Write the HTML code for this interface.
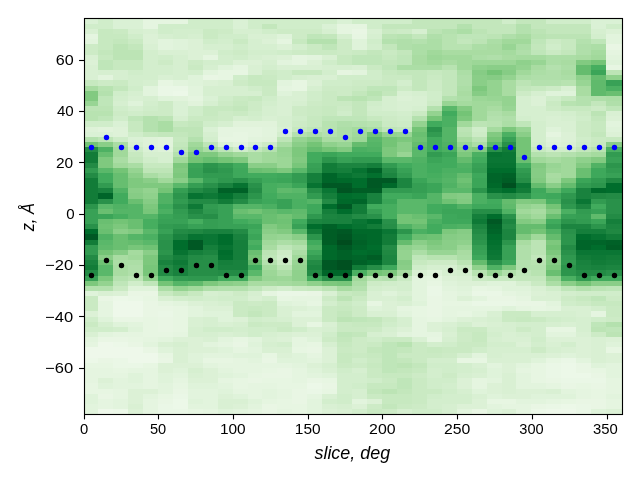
<!DOCTYPE html><html><head><meta charset="utf-8"><title>plot</title><style>html,body{margin:0;padding:0;background:#fff}svg{display:block;will-change:transform}text{font-family:"Liberation Sans",sans-serif;fill:#000}</style></head><body>
<svg width="640" height="480" viewBox="0 0 640 480">
<rect width="640" height="480" fill="#fff"/>
<g shape-rendering="crispEdges">
<rect x="84" y="19" width="14" height="5" fill="#daf1d5"/>
<rect x="98" y="19" width="15" height="5" fill="#d0edca"/>
<rect x="113" y="19" width="30" height="5" fill="#daf1d5"/>
<rect x="143" y="19" width="45" height="5" fill="#e5f5e0"/>
<rect x="188" y="19" width="45" height="5" fill="#d0edca"/>
<rect x="233" y="19" width="15" height="5" fill="#daf1d5"/>
<rect x="248" y="19" width="89" height="5" fill="#d0edca"/>
<rect x="337" y="19" width="15" height="5" fill="#daf1d5"/>
<rect x="352" y="19" width="60" height="5" fill="#d0edca"/>
<rect x="412" y="19" width="90" height="5" fill="#c3e7bc"/>
<rect x="502" y="19" width="14" height="5" fill="#d0edca"/>
<rect x="516" y="19" width="30" height="5" fill="#c3e7bc"/>
<rect x="546" y="19" width="45" height="5" fill="#d0edca"/>
<rect x="591" y="19" width="31" height="5" fill="#daf1d5"/>
<rect x="84" y="24" width="29" height="5" fill="#d0edca"/>
<rect x="113" y="24" width="30" height="5" fill="#daf1d5"/>
<rect x="143" y="24" width="15" height="5" fill="#e5f5e0"/>
<rect x="158" y="24" width="75" height="5" fill="#d0edca"/>
<rect x="233" y="24" width="15" height="5" fill="#daf1d5"/>
<rect x="248" y="24" width="14" height="5" fill="#d0edca"/>
<rect x="262" y="24" width="15" height="5" fill="#c3e7bc"/>
<rect x="277" y="24" width="45" height="5" fill="#d0edca"/>
<rect x="322" y="24" width="15" height="5" fill="#daf1d5"/>
<rect x="337" y="24" width="30" height="5" fill="#e5f5e0"/>
<rect x="367" y="24" width="15" height="5" fill="#d0edca"/>
<rect x="382" y="24" width="75" height="5" fill="#c3e7bc"/>
<rect x="457" y="24" width="15" height="5" fill="#b4e1ae"/>
<rect x="472" y="24" width="44" height="5" fill="#c3e7bc"/>
<rect x="516" y="24" width="15" height="5" fill="#b4e1ae"/>
<rect x="531" y="24" width="60" height="5" fill="#c3e7bc"/>
<rect x="591" y="24" width="15" height="5" fill="#daf1d5"/>
<rect x="606" y="24" width="16" height="5" fill="#d0edca"/>
<rect x="84" y="29" width="14" height="5" fill="#d9f0d3"/>
<rect x="98" y="29" width="15" height="5" fill="#c7e9c0"/>
<rect x="113" y="29" width="15" height="5" fill="#caeac3"/>
<rect x="128" y="29" width="15" height="5" fill="#d6efd0"/>
<rect x="143" y="29" width="15" height="5" fill="#d9f0d3"/>
<rect x="158" y="29" width="15" height="5" fill="#d0edca"/>
<rect x="173" y="29" width="30" height="5" fill="#d3eecd"/>
<rect x="203" y="29" width="15" height="5" fill="#caeac3"/>
<rect x="218" y="29" width="15" height="5" fill="#cdebc6"/>
<rect x="233" y="29" width="29" height="5" fill="#d6efd0"/>
<rect x="262" y="29" width="15" height="5" fill="#d0edca"/>
<rect x="277" y="29" width="45" height="5" fill="#cdebc6"/>
<rect x="322" y="29" width="15" height="5" fill="#d6efd0"/>
<rect x="337" y="29" width="15" height="5" fill="#e5f5e0"/>
<rect x="352" y="29" width="15" height="5" fill="#e9f6e4"/>
<rect x="367" y="29" width="15" height="5" fill="#d9f0d3"/>
<rect x="382" y="29" width="15" height="5" fill="#caeac3"/>
<rect x="397" y="29" width="15" height="5" fill="#cdebc6"/>
<rect x="412" y="29" width="15" height="5" fill="#d6efd0"/>
<rect x="427" y="29" width="15" height="5" fill="#bce4b5"/>
<rect x="442" y="29" width="15" height="5" fill="#b4e1ae"/>
<rect x="457" y="29" width="15" height="5" fill="#acdea6"/>
<rect x="472" y="29" width="15" height="5" fill="#bce4b5"/>
<rect x="487" y="29" width="29" height="5" fill="#c3e7bc"/>
<rect x="516" y="29" width="15" height="5" fill="#b4e1ae"/>
<rect x="531" y="29" width="15" height="5" fill="#bce4b5"/>
<rect x="546" y="29" width="45" height="5" fill="#c3e7bc"/>
<rect x="591" y="29" width="15" height="5" fill="#d6efd0"/>
<rect x="606" y="29" width="16" height="5" fill="#dcf1d6"/>
<rect x="84" y="34" width="14" height="5" fill="#e5f5e0"/>
<rect x="98" y="34" width="30" height="5" fill="#c7e9c0"/>
<rect x="128" y="34" width="15" height="5" fill="#d0edca"/>
<rect x="143" y="34" width="15" height="5" fill="#dcf1d6"/>
<rect x="158" y="34" width="15" height="5" fill="#d6efd0"/>
<rect x="173" y="34" width="15" height="5" fill="#d3eecd"/>
<rect x="188" y="34" width="15" height="5" fill="#d6efd0"/>
<rect x="203" y="34" width="15" height="5" fill="#caeac3"/>
<rect x="218" y="34" width="30" height="5" fill="#d0edca"/>
<rect x="248" y="34" width="29" height="5" fill="#d9f0d3"/>
<rect x="277" y="34" width="15" height="5" fill="#dff3da"/>
<rect x="292" y="34" width="15" height="5" fill="#cdebc6"/>
<rect x="307" y="34" width="15" height="5" fill="#bfe6b9"/>
<rect x="322" y="34" width="15" height="5" fill="#c3e7bc"/>
<rect x="337" y="34" width="15" height="5" fill="#d6efd0"/>
<rect x="352" y="34" width="15" height="5" fill="#e7f6e2"/>
<rect x="367" y="34" width="15" height="5" fill="#d6efd0"/>
<rect x="382" y="34" width="15" height="5" fill="#bce4b5"/>
<rect x="397" y="34" width="15" height="5" fill="#b8e3b1"/>
<rect x="412" y="34" width="15" height="5" fill="#c3e7bc"/>
<rect x="427" y="34" width="15" height="5" fill="#b0dfaa"/>
<rect x="442" y="34" width="15" height="5" fill="#b8e3b1"/>
<rect x="457" y="34" width="30" height="5" fill="#bfe6b9"/>
<rect x="487" y="34" width="15" height="5" fill="#bce4b5"/>
<rect x="502" y="34" width="14" height="5" fill="#b0dfaa"/>
<rect x="516" y="34" width="15" height="5" fill="#a9dca2"/>
<rect x="531" y="34" width="15" height="5" fill="#b8e3b1"/>
<rect x="546" y="34" width="45" height="5" fill="#bce4b5"/>
<rect x="591" y="34" width="15" height="5" fill="#d3eecd"/>
<rect x="606" y="34" width="16" height="5" fill="#e2f4dd"/>
<rect x="84" y="39" width="14" height="5" fill="#e2f4dd"/>
<rect x="98" y="39" width="15" height="5" fill="#c7e9c0"/>
<rect x="113" y="39" width="15" height="5" fill="#c3e7bc"/>
<rect x="128" y="39" width="15" height="5" fill="#caeac3"/>
<rect x="143" y="39" width="15" height="5" fill="#dcf1d6"/>
<rect x="158" y="39" width="15" height="5" fill="#e2f4dd"/>
<rect x="173" y="39" width="15" height="5" fill="#dff3da"/>
<rect x="188" y="39" width="15" height="5" fill="#dcf1d6"/>
<rect x="203" y="39" width="15" height="5" fill="#d0edca"/>
<rect x="218" y="39" width="15" height="5" fill="#d3eecd"/>
<rect x="233" y="39" width="15" height="5" fill="#caeac3"/>
<rect x="248" y="39" width="14" height="5" fill="#d6efd0"/>
<rect x="262" y="39" width="15" height="5" fill="#dcf1d6"/>
<rect x="277" y="39" width="15" height="5" fill="#e5f5e0"/>
<rect x="292" y="39" width="15" height="5" fill="#c7e9c0"/>
<rect x="307" y="39" width="30" height="5" fill="#b4e1ae"/>
<rect x="337" y="39" width="15" height="5" fill="#cdebc6"/>
<rect x="352" y="39" width="15" height="5" fill="#dff3da"/>
<rect x="367" y="39" width="15" height="5" fill="#d0edca"/>
<rect x="382" y="39" width="15" height="5" fill="#b4e1ae"/>
<rect x="397" y="39" width="15" height="5" fill="#b0dfaa"/>
<rect x="412" y="39" width="15" height="5" fill="#b4e1ae"/>
<rect x="427" y="39" width="15" height="5" fill="#acdea6"/>
<rect x="442" y="39" width="15" height="5" fill="#b8e3b1"/>
<rect x="457" y="39" width="15" height="5" fill="#c3e7bc"/>
<rect x="472" y="39" width="15" height="5" fill="#bce4b5"/>
<rect x="487" y="39" width="15" height="5" fill="#acdea6"/>
<rect x="502" y="39" width="29" height="5" fill="#a1d99b"/>
<rect x="531" y="39" width="15" height="5" fill="#bfe6b9"/>
<rect x="546" y="39" width="15" height="5" fill="#cdebc6"/>
<rect x="561" y="39" width="15" height="5" fill="#c7e9c0"/>
<rect x="576" y="39" width="15" height="5" fill="#b4e1ae"/>
<rect x="591" y="39" width="15" height="5" fill="#bfe6b9"/>
<rect x="606" y="39" width="16" height="5" fill="#e2f4dd"/>
<rect x="84" y="44" width="14" height="6" fill="#cdebc6"/>
<rect x="98" y="44" width="15" height="6" fill="#c7e9c0"/>
<rect x="113" y="44" width="15" height="6" fill="#bce4b5"/>
<rect x="128" y="44" width="15" height="6" fill="#c3e7bc"/>
<rect x="143" y="44" width="15" height="6" fill="#d9f0d3"/>
<rect x="158" y="44" width="15" height="6" fill="#e2f4dd"/>
<rect x="173" y="44" width="15" height="6" fill="#dff3da"/>
<rect x="188" y="44" width="15" height="6" fill="#dcf1d6"/>
<rect x="203" y="44" width="30" height="6" fill="#d6efd0"/>
<rect x="233" y="44" width="15" height="6" fill="#d0edca"/>
<rect x="248" y="44" width="29" height="6" fill="#d6efd0"/>
<rect x="277" y="44" width="15" height="6" fill="#dcf1d6"/>
<rect x="292" y="44" width="15" height="6" fill="#d3eecd"/>
<rect x="307" y="44" width="15" height="6" fill="#caeac3"/>
<rect x="322" y="44" width="15" height="6" fill="#bfe6b9"/>
<rect x="337" y="44" width="15" height="6" fill="#cdebc6"/>
<rect x="352" y="44" width="15" height="6" fill="#dff3da"/>
<rect x="367" y="44" width="15" height="6" fill="#d3eecd"/>
<rect x="382" y="44" width="15" height="6" fill="#c3e7bc"/>
<rect x="397" y="44" width="15" height="6" fill="#b0dfaa"/>
<rect x="412" y="44" width="30" height="6" fill="#acdea6"/>
<rect x="442" y="44" width="30" height="6" fill="#b8e3b1"/>
<rect x="472" y="44" width="15" height="6" fill="#acdea6"/>
<rect x="487" y="44" width="15" height="6" fill="#a9dca2"/>
<rect x="502" y="44" width="14" height="6" fill="#98d594"/>
<rect x="516" y="44" width="15" height="6" fill="#acdea6"/>
<rect x="531" y="44" width="15" height="6" fill="#c3e7bc"/>
<rect x="546" y="44" width="15" height="6" fill="#d0edca"/>
<rect x="561" y="44" width="15" height="6" fill="#c7e9c0"/>
<rect x="576" y="44" width="15" height="6" fill="#b0dfaa"/>
<rect x="591" y="44" width="15" height="6" fill="#acdea6"/>
<rect x="606" y="44" width="16" height="6" fill="#e9f6e4"/>
<rect x="84" y="50" width="14" height="5" fill="#cdebc6"/>
<rect x="98" y="50" width="15" height="5" fill="#c3e7bc"/>
<rect x="113" y="50" width="30" height="5" fill="#bce4b5"/>
<rect x="143" y="50" width="15" height="5" fill="#d3eecd"/>
<rect x="158" y="50" width="30" height="5" fill="#d9f0d3"/>
<rect x="188" y="50" width="30" height="5" fill="#dcf1d6"/>
<rect x="218" y="50" width="15" height="5" fill="#d0edca"/>
<rect x="233" y="50" width="15" height="5" fill="#cdebc6"/>
<rect x="248" y="50" width="29" height="5" fill="#d3eecd"/>
<rect x="277" y="50" width="15" height="5" fill="#d0edca"/>
<rect x="292" y="50" width="15" height="5" fill="#cdebc6"/>
<rect x="307" y="50" width="30" height="5" fill="#caeac3"/>
<rect x="337" y="50" width="15" height="5" fill="#cdebc6"/>
<rect x="352" y="50" width="15" height="5" fill="#caeac3"/>
<rect x="367" y="50" width="15" height="5" fill="#c3e7bc"/>
<rect x="382" y="50" width="15" height="5" fill="#caeac3"/>
<rect x="397" y="50" width="15" height="5" fill="#c3e7bc"/>
<rect x="412" y="50" width="15" height="5" fill="#acdea6"/>
<rect x="427" y="50" width="15" height="5" fill="#a1d99b"/>
<rect x="442" y="50" width="60" height="5" fill="#a9dca2"/>
<rect x="502" y="50" width="14" height="5" fill="#a5db9f"/>
<rect x="516" y="50" width="15" height="5" fill="#b0dfaa"/>
<rect x="531" y="50" width="15" height="5" fill="#bfe6b9"/>
<rect x="546" y="50" width="15" height="5" fill="#caeac3"/>
<rect x="561" y="50" width="15" height="5" fill="#c3e7bc"/>
<rect x="576" y="50" width="15" height="5" fill="#b0dfaa"/>
<rect x="591" y="50" width="15" height="5" fill="#a5db9f"/>
<rect x="606" y="50" width="16" height="5" fill="#e5f5e0"/>
<rect x="84" y="55" width="14" height="5" fill="#d9f0d3"/>
<rect x="98" y="55" width="15" height="5" fill="#c7e9c0"/>
<rect x="113" y="55" width="30" height="5" fill="#bce4b5"/>
<rect x="143" y="55" width="15" height="5" fill="#d3eecd"/>
<rect x="158" y="55" width="15" height="5" fill="#d0edca"/>
<rect x="173" y="55" width="15" height="5" fill="#d6efd0"/>
<rect x="188" y="55" width="15" height="5" fill="#dcf1d6"/>
<rect x="203" y="55" width="15" height="5" fill="#e5f5e0"/>
<rect x="218" y="55" width="15" height="5" fill="#d3eecd"/>
<rect x="233" y="55" width="15" height="5" fill="#d0edca"/>
<rect x="248" y="55" width="14" height="5" fill="#d6efd0"/>
<rect x="262" y="55" width="15" height="5" fill="#d9f0d3"/>
<rect x="277" y="55" width="15" height="5" fill="#dcf1d6"/>
<rect x="292" y="55" width="15" height="5" fill="#e5f5e0"/>
<rect x="307" y="55" width="15" height="5" fill="#e2f4dd"/>
<rect x="322" y="55" width="15" height="5" fill="#d9f0d3"/>
<rect x="337" y="55" width="15" height="5" fill="#c7e9c0"/>
<rect x="352" y="55" width="30" height="5" fill="#bfe6b9"/>
<rect x="382" y="55" width="15" height="5" fill="#c7e9c0"/>
<rect x="397" y="55" width="15" height="5" fill="#bfe6b9"/>
<rect x="412" y="55" width="15" height="5" fill="#a9dca2"/>
<rect x="427" y="55" width="15" height="5" fill="#9cd797"/>
<rect x="442" y="55" width="30" height="5" fill="#a1d99b"/>
<rect x="472" y="55" width="15" height="5" fill="#acdea6"/>
<rect x="487" y="55" width="15" height="5" fill="#b0dfaa"/>
<rect x="502" y="55" width="14" height="5" fill="#a9dca2"/>
<rect x="516" y="55" width="30" height="5" fill="#a5db9f"/>
<rect x="546" y="55" width="30" height="5" fill="#acdea6"/>
<rect x="576" y="55" width="15" height="5" fill="#a9dca2"/>
<rect x="591" y="55" width="15" height="5" fill="#a1d99b"/>
<rect x="606" y="55" width="16" height="5" fill="#e2f4dd"/>
<rect x="84" y="60" width="14" height="5" fill="#dcf1d6"/>
<rect x="98" y="60" width="15" height="5" fill="#bfe6b9"/>
<rect x="113" y="60" width="30" height="5" fill="#c7e9c0"/>
<rect x="143" y="60" width="15" height="5" fill="#d3eecd"/>
<rect x="158" y="60" width="15" height="5" fill="#cdebc6"/>
<rect x="173" y="60" width="15" height="5" fill="#d6efd0"/>
<rect x="188" y="60" width="15" height="5" fill="#cdebc6"/>
<rect x="203" y="60" width="30" height="5" fill="#d3eecd"/>
<rect x="233" y="60" width="29" height="5" fill="#dcf1d6"/>
<rect x="262" y="60" width="15" height="5" fill="#d6efd0"/>
<rect x="277" y="60" width="15" height="5" fill="#e2f4dd"/>
<rect x="292" y="60" width="15" height="5" fill="#e5f5e0"/>
<rect x="307" y="60" width="15" height="5" fill="#dcf1d6"/>
<rect x="322" y="60" width="15" height="5" fill="#d0edca"/>
<rect x="337" y="60" width="15" height="5" fill="#c7e9c0"/>
<rect x="352" y="60" width="30" height="5" fill="#bfe6b9"/>
<rect x="382" y="60" width="15" height="5" fill="#c3e7bc"/>
<rect x="397" y="60" width="15" height="5" fill="#bfe6b9"/>
<rect x="412" y="60" width="15" height="5" fill="#a9dca2"/>
<rect x="427" y="60" width="15" height="5" fill="#a1d99b"/>
<rect x="442" y="60" width="15" height="5" fill="#a9dca2"/>
<rect x="457" y="60" width="15" height="5" fill="#a1d99b"/>
<rect x="472" y="60" width="44" height="5" fill="#9cd797"/>
<rect x="516" y="60" width="15" height="5" fill="#8fd18c"/>
<rect x="531" y="60" width="15" height="5" fill="#98d594"/>
<rect x="546" y="60" width="15" height="5" fill="#acdea6"/>
<rect x="561" y="60" width="15" height="5" fill="#a9dca2"/>
<rect x="576" y="60" width="15" height="5" fill="#82ca81"/>
<rect x="591" y="60" width="15" height="5" fill="#74c476"/>
<rect x="606" y="60" width="16" height="5" fill="#dff3da"/>
<rect x="84" y="65" width="14" height="5" fill="#d9f0d3"/>
<rect x="98" y="65" width="15" height="5" fill="#bfe6b9"/>
<rect x="113" y="65" width="30" height="5" fill="#c7e9c0"/>
<rect x="143" y="65" width="30" height="5" fill="#d3eecd"/>
<rect x="173" y="65" width="15" height="5" fill="#d6efd0"/>
<rect x="188" y="65" width="15" height="5" fill="#caeac3"/>
<rect x="203" y="65" width="15" height="5" fill="#d6efd0"/>
<rect x="218" y="65" width="15" height="5" fill="#dff3da"/>
<rect x="233" y="65" width="15" height="5" fill="#e5f5e0"/>
<rect x="248" y="65" width="14" height="5" fill="#d9f0d3"/>
<rect x="262" y="65" width="15" height="5" fill="#d3eecd"/>
<rect x="277" y="65" width="45" height="5" fill="#d9f0d3"/>
<rect x="322" y="65" width="30" height="5" fill="#d6efd0"/>
<rect x="352" y="65" width="15" height="5" fill="#d9f0d3"/>
<rect x="367" y="65" width="15" height="5" fill="#caeac3"/>
<rect x="382" y="65" width="15" height="5" fill="#bfe6b9"/>
<rect x="397" y="65" width="45" height="5" fill="#acdea6"/>
<rect x="442" y="65" width="15" height="5" fill="#b8e3b1"/>
<rect x="457" y="65" width="15" height="5" fill="#a1d99b"/>
<rect x="472" y="65" width="15" height="5" fill="#8fd18c"/>
<rect x="487" y="65" width="29" height="5" fill="#8ace88"/>
<rect x="516" y="65" width="15" height="5" fill="#94d390"/>
<rect x="531" y="65" width="15" height="5" fill="#a9dca2"/>
<rect x="546" y="65" width="15" height="5" fill="#b4e1ae"/>
<rect x="561" y="65" width="15" height="5" fill="#acdea6"/>
<rect x="576" y="65" width="15" height="5" fill="#65bc6e"/>
<rect x="591" y="65" width="15" height="5" fill="#46ae5f"/>
<rect x="606" y="65" width="16" height="5" fill="#e7f6e2"/>
<rect x="84" y="70" width="14" height="5" fill="#d9f0d3"/>
<rect x="98" y="70" width="30" height="5" fill="#d6efd0"/>
<rect x="128" y="70" width="15" height="5" fill="#d0edca"/>
<rect x="143" y="70" width="30" height="5" fill="#d3eecd"/>
<rect x="173" y="70" width="15" height="5" fill="#d6efd0"/>
<rect x="188" y="70" width="15" height="5" fill="#d3eecd"/>
<rect x="203" y="70" width="15" height="5" fill="#e2f4dd"/>
<rect x="218" y="70" width="30" height="5" fill="#e7f6e2"/>
<rect x="248" y="70" width="14" height="5" fill="#d9f0d3"/>
<rect x="262" y="70" width="15" height="5" fill="#cdebc6"/>
<rect x="277" y="70" width="15" height="5" fill="#d0edca"/>
<rect x="292" y="70" width="30" height="5" fill="#c7e9c0"/>
<rect x="322" y="70" width="15" height="5" fill="#d3eecd"/>
<rect x="337" y="70" width="15" height="5" fill="#e5f5e0"/>
<rect x="352" y="70" width="15" height="5" fill="#e2f4dd"/>
<rect x="367" y="70" width="15" height="5" fill="#d0edca"/>
<rect x="382" y="70" width="15" height="5" fill="#c7e9c0"/>
<rect x="397" y="70" width="30" height="5" fill="#c3e7bc"/>
<rect x="427" y="70" width="15" height="5" fill="#c7e9c0"/>
<rect x="442" y="70" width="15" height="5" fill="#c3e7bc"/>
<rect x="457" y="70" width="15" height="5" fill="#acdea6"/>
<rect x="472" y="70" width="15" height="5" fill="#86cc85"/>
<rect x="487" y="70" width="15" height="5" fill="#74c476"/>
<rect x="502" y="70" width="14" height="5" fill="#86cc85"/>
<rect x="516" y="70" width="15" height="5" fill="#a1d99b"/>
<rect x="531" y="70" width="15" height="5" fill="#acdea6"/>
<rect x="546" y="70" width="15" height="5" fill="#b0dfaa"/>
<rect x="561" y="70" width="15" height="5" fill="#a9dca2"/>
<rect x="576" y="70" width="15" height="5" fill="#65bc6e"/>
<rect x="591" y="70" width="15" height="5" fill="#3ba558"/>
<rect x="606" y="70" width="16" height="5" fill="#bce4b5"/>
<rect x="84" y="75" width="14" height="5" fill="#d9f0d3"/>
<rect x="98" y="75" width="15" height="5" fill="#e2f4dd"/>
<rect x="113" y="75" width="15" height="5" fill="#d6efd0"/>
<rect x="128" y="75" width="30" height="5" fill="#d3eecd"/>
<rect x="158" y="75" width="15" height="5" fill="#d9f0d3"/>
<rect x="173" y="75" width="15" height="5" fill="#d6efd0"/>
<rect x="188" y="75" width="15" height="5" fill="#dff3da"/>
<rect x="203" y="75" width="15" height="5" fill="#e9f6e4"/>
<rect x="218" y="75" width="15" height="5" fill="#e7f6e2"/>
<rect x="233" y="75" width="15" height="5" fill="#d0edca"/>
<rect x="248" y="75" width="14" height="5" fill="#c7e9c0"/>
<rect x="262" y="75" width="15" height="5" fill="#caeac3"/>
<rect x="277" y="75" width="15" height="5" fill="#d0edca"/>
<rect x="292" y="75" width="15" height="5" fill="#d6efd0"/>
<rect x="307" y="75" width="30" height="5" fill="#d9f0d3"/>
<rect x="337" y="75" width="45" height="5" fill="#d0edca"/>
<rect x="382" y="75" width="30" height="5" fill="#caeac3"/>
<rect x="412" y="75" width="15" height="5" fill="#c3e7bc"/>
<rect x="427" y="75" width="15" height="5" fill="#caeac3"/>
<rect x="442" y="75" width="15" height="5" fill="#c3e7bc"/>
<rect x="457" y="75" width="15" height="5" fill="#b0dfaa"/>
<rect x="472" y="75" width="15" height="5" fill="#8ace88"/>
<rect x="487" y="75" width="15" height="5" fill="#86cc85"/>
<rect x="502" y="75" width="14" height="5" fill="#94d390"/>
<rect x="516" y="75" width="15" height="5" fill="#acdea6"/>
<rect x="531" y="75" width="30" height="5" fill="#b0dfaa"/>
<rect x="561" y="75" width="15" height="5" fill="#acdea6"/>
<rect x="576" y="75" width="15" height="5" fill="#8fd18c"/>
<rect x="591" y="75" width="15" height="5" fill="#65bc6e"/>
<rect x="606" y="75" width="16" height="5" fill="#8fd18c"/>
<rect x="84" y="80" width="14" height="6" fill="#c7e9c0"/>
<rect x="98" y="80" width="15" height="6" fill="#cdebc6"/>
<rect x="113" y="80" width="15" height="6" fill="#caeac3"/>
<rect x="128" y="80" width="15" height="6" fill="#d3eecd"/>
<rect x="143" y="80" width="15" height="6" fill="#d6efd0"/>
<rect x="158" y="80" width="15" height="6" fill="#e7f6e2"/>
<rect x="173" y="80" width="15" height="6" fill="#e2f4dd"/>
<rect x="188" y="80" width="15" height="6" fill="#dff3da"/>
<rect x="203" y="80" width="15" height="6" fill="#dcf1d6"/>
<rect x="218" y="80" width="15" height="6" fill="#d9f0d3"/>
<rect x="233" y="80" width="15" height="6" fill="#cdebc6"/>
<rect x="248" y="80" width="29" height="6" fill="#c7e9c0"/>
<rect x="277" y="80" width="15" height="6" fill="#e2f4dd"/>
<rect x="292" y="80" width="15" height="6" fill="#e7f6e2"/>
<rect x="307" y="80" width="15" height="6" fill="#dcf1d6"/>
<rect x="322" y="80" width="30" height="6" fill="#d0edca"/>
<rect x="352" y="80" width="30" height="6" fill="#cdebc6"/>
<rect x="382" y="80" width="15" height="6" fill="#caeac3"/>
<rect x="397" y="80" width="15" height="6" fill="#d3eecd"/>
<rect x="412" y="80" width="15" height="6" fill="#c3e7bc"/>
<rect x="427" y="80" width="15" height="6" fill="#cdebc6"/>
<rect x="442" y="80" width="15" height="6" fill="#c3e7bc"/>
<rect x="457" y="80" width="15" height="6" fill="#b0dfaa"/>
<rect x="472" y="80" width="15" height="6" fill="#8ace88"/>
<rect x="487" y="80" width="15" height="6" fill="#94d390"/>
<rect x="502" y="80" width="14" height="6" fill="#a9dca2"/>
<rect x="516" y="80" width="15" height="6" fill="#bce4b5"/>
<rect x="531" y="80" width="30" height="6" fill="#b4e1ae"/>
<rect x="561" y="80" width="15" height="6" fill="#b8e3b1"/>
<rect x="576" y="80" width="15" height="6" fill="#98d594"/>
<rect x="591" y="80" width="15" height="6" fill="#60ba6c"/>
<rect x="606" y="80" width="16" height="6" fill="#38a156"/>
<rect x="84" y="86" width="14" height="5" fill="#a9dca2"/>
<rect x="98" y="86" width="15" height="5" fill="#b8e3b1"/>
<rect x="113" y="86" width="15" height="5" fill="#c3e7bc"/>
<rect x="128" y="86" width="15" height="5" fill="#d0edca"/>
<rect x="143" y="86" width="15" height="5" fill="#e2f4dd"/>
<rect x="158" y="86" width="30" height="5" fill="#eaf7e6"/>
<rect x="188" y="86" width="15" height="5" fill="#e2f4dd"/>
<rect x="203" y="86" width="45" height="5" fill="#d6efd0"/>
<rect x="248" y="86" width="14" height="5" fill="#d0edca"/>
<rect x="262" y="86" width="15" height="5" fill="#caeac3"/>
<rect x="277" y="86" width="15" height="5" fill="#e5f5e0"/>
<rect x="292" y="86" width="15" height="5" fill="#e7f6e2"/>
<rect x="307" y="86" width="15" height="5" fill="#d6efd0"/>
<rect x="322" y="86" width="30" height="5" fill="#cdebc6"/>
<rect x="352" y="86" width="15" height="5" fill="#caeac3"/>
<rect x="367" y="86" width="30" height="5" fill="#bfe6b9"/>
<rect x="397" y="86" width="15" height="5" fill="#cdebc6"/>
<rect x="412" y="86" width="15" height="5" fill="#c3e7bc"/>
<rect x="427" y="86" width="15" height="5" fill="#cdebc6"/>
<rect x="442" y="86" width="15" height="5" fill="#c3e7bc"/>
<rect x="457" y="86" width="15" height="5" fill="#acdea6"/>
<rect x="472" y="86" width="15" height="5" fill="#7dc87d"/>
<rect x="487" y="86" width="15" height="5" fill="#94d390"/>
<rect x="502" y="86" width="14" height="5" fill="#a9dca2"/>
<rect x="516" y="86" width="15" height="5" fill="#c3e7bc"/>
<rect x="531" y="86" width="15" height="5" fill="#c7e9c0"/>
<rect x="546" y="86" width="15" height="5" fill="#cdebc6"/>
<rect x="561" y="86" width="15" height="5" fill="#d9f0d3"/>
<rect x="576" y="86" width="15" height="5" fill="#a9dca2"/>
<rect x="591" y="86" width="15" height="5" fill="#60ba6c"/>
<rect x="606" y="86" width="16" height="5" fill="#4bb062"/>
<rect x="84" y="91" width="14" height="5" fill="#82ca81"/>
<rect x="98" y="91" width="15" height="5" fill="#b4e1ae"/>
<rect x="113" y="91" width="15" height="5" fill="#d0edca"/>
<rect x="128" y="91" width="15" height="5" fill="#d6efd0"/>
<rect x="143" y="91" width="15" height="5" fill="#e2f4dd"/>
<rect x="158" y="91" width="15" height="5" fill="#eaf7e6"/>
<rect x="173" y="91" width="15" height="5" fill="#ecf8e8"/>
<rect x="188" y="91" width="15" height="5" fill="#e2f4dd"/>
<rect x="203" y="91" width="59" height="5" fill="#d6efd0"/>
<rect x="262" y="91" width="15" height="5" fill="#caeac3"/>
<rect x="277" y="91" width="15" height="5" fill="#dff3da"/>
<rect x="292" y="91" width="15" height="5" fill="#d9f0d3"/>
<rect x="307" y="91" width="15" height="5" fill="#d0edca"/>
<rect x="322" y="91" width="15" height="5" fill="#caeac3"/>
<rect x="337" y="91" width="15" height="5" fill="#cdebc6"/>
<rect x="352" y="91" width="15" height="5" fill="#c3e7bc"/>
<rect x="367" y="91" width="15" height="5" fill="#b8e3b1"/>
<rect x="382" y="91" width="15" height="5" fill="#c3e7bc"/>
<rect x="397" y="91" width="15" height="5" fill="#d9f0d3"/>
<rect x="412" y="91" width="15" height="5" fill="#d6efd0"/>
<rect x="427" y="91" width="15" height="5" fill="#d0edca"/>
<rect x="442" y="91" width="15" height="5" fill="#c3e7bc"/>
<rect x="457" y="91" width="15" height="5" fill="#a9dca2"/>
<rect x="472" y="91" width="15" height="5" fill="#86cc85"/>
<rect x="487" y="91" width="15" height="5" fill="#94d390"/>
<rect x="502" y="91" width="14" height="5" fill="#a9dca2"/>
<rect x="516" y="91" width="15" height="5" fill="#cdebc6"/>
<rect x="531" y="91" width="15" height="5" fill="#d6efd0"/>
<rect x="546" y="91" width="30" height="5" fill="#dff3da"/>
<rect x="576" y="91" width="15" height="5" fill="#a9dca2"/>
<rect x="591" y="91" width="15" height="5" fill="#60ba6c"/>
<rect x="606" y="91" width="16" height="5" fill="#6abf71"/>
<rect x="84" y="96" width="14" height="5" fill="#82ca81"/>
<rect x="98" y="96" width="15" height="5" fill="#bfe6b9"/>
<rect x="113" y="96" width="15" height="5" fill="#d3eecd"/>
<rect x="128" y="96" width="15" height="5" fill="#d9f0d3"/>
<rect x="143" y="96" width="15" height="5" fill="#d6efd0"/>
<rect x="158" y="96" width="15" height="5" fill="#dff3da"/>
<rect x="173" y="96" width="15" height="5" fill="#e1f3db"/>
<rect x="188" y="96" width="15" height="5" fill="#e5f5e0"/>
<rect x="203" y="96" width="15" height="5" fill="#daf1d5"/>
<rect x="218" y="96" width="15" height="5" fill="#d0edca"/>
<rect x="233" y="96" width="15" height="5" fill="#caeac3"/>
<rect x="248" y="96" width="14" height="5" fill="#c7e9c0"/>
<rect x="262" y="96" width="15" height="5" fill="#d0edca"/>
<rect x="277" y="96" width="30" height="5" fill="#d9f0d3"/>
<rect x="307" y="96" width="15" height="5" fill="#d0edca"/>
<rect x="322" y="96" width="15" height="5" fill="#caeac3"/>
<rect x="337" y="96" width="15" height="5" fill="#bce4b5"/>
<rect x="352" y="96" width="15" height="5" fill="#b8e3b1"/>
<rect x="367" y="96" width="15" height="5" fill="#bfe6b9"/>
<rect x="382" y="96" width="15" height="5" fill="#d6efd0"/>
<rect x="397" y="96" width="15" height="5" fill="#dcf1d6"/>
<rect x="412" y="96" width="15" height="5" fill="#d9f0d3"/>
<rect x="427" y="96" width="15" height="5" fill="#d0edca"/>
<rect x="442" y="96" width="15" height="5" fill="#b4e1ae"/>
<rect x="457" y="96" width="15" height="5" fill="#acdea6"/>
<rect x="472" y="96" width="15" height="5" fill="#9cd797"/>
<rect x="487" y="96" width="15" height="5" fill="#98d594"/>
<rect x="502" y="96" width="14" height="5" fill="#94d390"/>
<rect x="516" y="96" width="15" height="5" fill="#d6efd0"/>
<rect x="531" y="96" width="15" height="5" fill="#dcf1d6"/>
<rect x="546" y="96" width="15" height="5" fill="#d0edca"/>
<rect x="561" y="96" width="15" height="5" fill="#c7e9c0"/>
<rect x="576" y="96" width="15" height="5" fill="#b4e1ae"/>
<rect x="591" y="96" width="15" height="5" fill="#b0dfaa"/>
<rect x="606" y="96" width="16" height="5" fill="#acdea6"/>
<rect x="84" y="101" width="14" height="5" fill="#98d594"/>
<rect x="98" y="101" width="15" height="5" fill="#bfe6b9"/>
<rect x="113" y="101" width="15" height="5" fill="#d6efd0"/>
<rect x="128" y="101" width="15" height="5" fill="#dff3da"/>
<rect x="143" y="101" width="15" height="5" fill="#d3eecd"/>
<rect x="158" y="101" width="15" height="5" fill="#cdebc6"/>
<rect x="173" y="101" width="15" height="5" fill="#daf1d5"/>
<rect x="188" y="101" width="15" height="5" fill="#e1f3db"/>
<rect x="203" y="101" width="15" height="5" fill="#d6efd0"/>
<rect x="218" y="101" width="15" height="5" fill="#cdebc6"/>
<rect x="233" y="101" width="15" height="5" fill="#c7e9c0"/>
<rect x="248" y="101" width="14" height="5" fill="#cdebc6"/>
<rect x="262" y="101" width="15" height="5" fill="#d3eecd"/>
<rect x="277" y="101" width="15" height="5" fill="#d9f0d3"/>
<rect x="292" y="101" width="15" height="5" fill="#d6efd0"/>
<rect x="307" y="101" width="15" height="5" fill="#cdebc6"/>
<rect x="322" y="101" width="30" height="5" fill="#caeac3"/>
<rect x="352" y="101" width="15" height="5" fill="#c3e7bc"/>
<rect x="367" y="101" width="15" height="5" fill="#d0edca"/>
<rect x="382" y="101" width="15" height="5" fill="#d6efd0"/>
<rect x="397" y="101" width="30" height="5" fill="#d9f0d3"/>
<rect x="427" y="101" width="15" height="5" fill="#cdebc6"/>
<rect x="442" y="101" width="15" height="5" fill="#98d594"/>
<rect x="457" y="101" width="15" height="5" fill="#a5db9f"/>
<rect x="472" y="101" width="30" height="5" fill="#a1d99b"/>
<rect x="502" y="101" width="14" height="5" fill="#94d390"/>
<rect x="516" y="101" width="15" height="5" fill="#d6efd0"/>
<rect x="531" y="101" width="15" height="5" fill="#dcf1d6"/>
<rect x="546" y="101" width="15" height="5" fill="#caeac3"/>
<rect x="561" y="101" width="15" height="5" fill="#b8e3b1"/>
<rect x="576" y="101" width="15" height="5" fill="#b4e1ae"/>
<rect x="591" y="101" width="15" height="5" fill="#c3e7bc"/>
<rect x="606" y="101" width="16" height="5" fill="#b0dfaa"/>
<rect x="84" y="106" width="29" height="5" fill="#bce4b5"/>
<rect x="113" y="106" width="15" height="5" fill="#d0edca"/>
<rect x="128" y="106" width="15" height="5" fill="#d6efd0"/>
<rect x="143" y="106" width="15" height="5" fill="#d0edca"/>
<rect x="158" y="106" width="15" height="5" fill="#cdebc6"/>
<rect x="173" y="106" width="15" height="5" fill="#daf1d5"/>
<rect x="188" y="106" width="15" height="5" fill="#d0edca"/>
<rect x="203" y="106" width="30" height="5" fill="#c7e9c0"/>
<rect x="233" y="106" width="15" height="5" fill="#c3e7bc"/>
<rect x="248" y="106" width="14" height="5" fill="#cdebc6"/>
<rect x="262" y="106" width="15" height="5" fill="#d6efd0"/>
<rect x="277" y="106" width="15" height="5" fill="#d9f0d3"/>
<rect x="292" y="106" width="15" height="5" fill="#cdebc6"/>
<rect x="307" y="106" width="15" height="5" fill="#caeac3"/>
<rect x="322" y="106" width="15" height="5" fill="#c7e9c0"/>
<rect x="337" y="106" width="15" height="5" fill="#cdebc6"/>
<rect x="352" y="106" width="15" height="5" fill="#c3e7bc"/>
<rect x="367" y="106" width="15" height="5" fill="#d3eecd"/>
<rect x="382" y="106" width="15" height="5" fill="#d6efd0"/>
<rect x="397" y="106" width="15" height="5" fill="#d9f0d3"/>
<rect x="412" y="106" width="15" height="5" fill="#d6efd0"/>
<rect x="427" y="106" width="15" height="5" fill="#b4e1ae"/>
<rect x="442" y="106" width="15" height="5" fill="#5ab86a"/>
<rect x="457" y="106" width="15" height="5" fill="#82ca81"/>
<rect x="472" y="106" width="15" height="5" fill="#a1d99b"/>
<rect x="487" y="106" width="15" height="5" fill="#a9dca2"/>
<rect x="502" y="106" width="14" height="5" fill="#98d594"/>
<rect x="516" y="106" width="30" height="5" fill="#d6efd0"/>
<rect x="546" y="106" width="15" height="5" fill="#cdebc6"/>
<rect x="561" y="106" width="30" height="5" fill="#c7e9c0"/>
<rect x="591" y="106" width="15" height="5" fill="#cdebc6"/>
<rect x="606" y="106" width="16" height="5" fill="#bfe6b9"/>
<rect x="84" y="111" width="29" height="5" fill="#b8e3b1"/>
<rect x="113" y="111" width="15" height="5" fill="#cdebc6"/>
<rect x="128" y="111" width="15" height="5" fill="#d0edca"/>
<rect x="143" y="111" width="30" height="5" fill="#cdebc6"/>
<rect x="173" y="111" width="15" height="5" fill="#daf1d5"/>
<rect x="188" y="111" width="15" height="5" fill="#d0edca"/>
<rect x="203" y="111" width="15" height="5" fill="#c7e9c0"/>
<rect x="218" y="111" width="15" height="5" fill="#cdebc6"/>
<rect x="233" y="111" width="15" height="5" fill="#caeac3"/>
<rect x="248" y="111" width="14" height="5" fill="#d0edca"/>
<rect x="262" y="111" width="15" height="5" fill="#d6efd0"/>
<rect x="277" y="111" width="15" height="5" fill="#d9f0d3"/>
<rect x="292" y="111" width="15" height="5" fill="#cdebc6"/>
<rect x="307" y="111" width="15" height="5" fill="#caeac3"/>
<rect x="322" y="111" width="15" height="5" fill="#c7e9c0"/>
<rect x="337" y="111" width="15" height="5" fill="#d0edca"/>
<rect x="352" y="111" width="15" height="5" fill="#c3e7bc"/>
<rect x="367" y="111" width="30" height="5" fill="#d0edca"/>
<rect x="397" y="111" width="15" height="5" fill="#d3eecd"/>
<rect x="412" y="111" width="15" height="5" fill="#caeac3"/>
<rect x="427" y="111" width="15" height="5" fill="#94d390"/>
<rect x="442" y="111" width="15" height="5" fill="#41ab5d"/>
<rect x="457" y="111" width="15" height="5" fill="#74c476"/>
<rect x="472" y="111" width="15" height="5" fill="#a1d99b"/>
<rect x="487" y="111" width="15" height="5" fill="#b0dfaa"/>
<rect x="502" y="111" width="14" height="5" fill="#a9dca2"/>
<rect x="516" y="111" width="45" height="5" fill="#d6efd0"/>
<rect x="561" y="111" width="15" height="5" fill="#d3eecd"/>
<rect x="576" y="111" width="15" height="5" fill="#cdebc6"/>
<rect x="591" y="111" width="15" height="5" fill="#bce4b5"/>
<rect x="606" y="111" width="16" height="5" fill="#d9f0d3"/>
<rect x="84" y="116" width="14" height="5" fill="#b8e3b1"/>
<rect x="98" y="116" width="15" height="5" fill="#bfe6b9"/>
<rect x="113" y="116" width="15" height="5" fill="#d0edca"/>
<rect x="128" y="116" width="15" height="5" fill="#bfe6b9"/>
<rect x="143" y="116" width="15" height="5" fill="#b4e1ae"/>
<rect x="158" y="116" width="15" height="5" fill="#bce4b5"/>
<rect x="173" y="116" width="15" height="5" fill="#d6efd0"/>
<rect x="188" y="116" width="30" height="5" fill="#caeac3"/>
<rect x="218" y="116" width="15" height="5" fill="#cdebc6"/>
<rect x="233" y="116" width="15" height="5" fill="#d6efd0"/>
<rect x="248" y="116" width="14" height="5" fill="#d3eecd"/>
<rect x="262" y="116" width="15" height="5" fill="#d9f0d3"/>
<rect x="277" y="116" width="15" height="5" fill="#d6efd0"/>
<rect x="292" y="116" width="15" height="5" fill="#d0edca"/>
<rect x="307" y="116" width="15" height="5" fill="#c7e9c0"/>
<rect x="322" y="116" width="45" height="5" fill="#bfe6b9"/>
<rect x="367" y="116" width="15" height="5" fill="#c7e9c0"/>
<rect x="382" y="116" width="15" height="5" fill="#cdebc6"/>
<rect x="397" y="116" width="15" height="5" fill="#d0edca"/>
<rect x="412" y="116" width="15" height="5" fill="#b4e1ae"/>
<rect x="427" y="116" width="15" height="5" fill="#74c476"/>
<rect x="442" y="116" width="15" height="5" fill="#4bb062"/>
<rect x="457" y="116" width="15" height="5" fill="#7dc87d"/>
<rect x="472" y="116" width="15" height="5" fill="#a1d99b"/>
<rect x="487" y="116" width="15" height="5" fill="#b4e1ae"/>
<rect x="502" y="116" width="14" height="5" fill="#b0dfaa"/>
<rect x="516" y="116" width="15" height="5" fill="#d3eecd"/>
<rect x="531" y="116" width="15" height="5" fill="#d6efd0"/>
<rect x="546" y="116" width="15" height="5" fill="#d9f0d3"/>
<rect x="561" y="116" width="15" height="5" fill="#d6efd0"/>
<rect x="576" y="116" width="15" height="5" fill="#d0edca"/>
<rect x="591" y="116" width="15" height="5" fill="#c3e7bc"/>
<rect x="606" y="116" width="16" height="5" fill="#dcf1d6"/>
<rect x="84" y="121" width="29" height="6" fill="#d0edca"/>
<rect x="113" y="121" width="15" height="6" fill="#daf1d5"/>
<rect x="128" y="121" width="15" height="6" fill="#c7e9c0"/>
<rect x="143" y="121" width="15" height="6" fill="#b4e1ae"/>
<rect x="158" y="121" width="15" height="6" fill="#aadda4"/>
<rect x="173" y="121" width="15" height="6" fill="#c7e9c0"/>
<rect x="188" y="121" width="15" height="6" fill="#c3e7bc"/>
<rect x="203" y="121" width="15" height="6" fill="#d0edca"/>
<rect x="218" y="121" width="15" height="6" fill="#d6efd0"/>
<rect x="233" y="121" width="44" height="6" fill="#e1f3db"/>
<rect x="277" y="121" width="15" height="6" fill="#d6efd0"/>
<rect x="292" y="121" width="15" height="6" fill="#cdebc6"/>
<rect x="307" y="121" width="15" height="6" fill="#c7e9c0"/>
<rect x="322" y="121" width="15" height="6" fill="#b8e3b1"/>
<rect x="337" y="121" width="15" height="6" fill="#b0dfaa"/>
<rect x="352" y="121" width="15" height="6" fill="#b4e1ae"/>
<rect x="367" y="121" width="15" height="6" fill="#b8e3b1"/>
<rect x="382" y="121" width="15" height="6" fill="#caeac3"/>
<rect x="397" y="121" width="15" height="6" fill="#cdebc6"/>
<rect x="412" y="121" width="15" height="6" fill="#94d390"/>
<rect x="427" y="121" width="15" height="6" fill="#41ab5d"/>
<rect x="442" y="121" width="15" height="6" fill="#4bb062"/>
<rect x="457" y="121" width="15" height="6" fill="#a1d99b"/>
<rect x="472" y="121" width="15" height="6" fill="#bce4b5"/>
<rect x="487" y="121" width="15" height="6" fill="#b8e3b1"/>
<rect x="502" y="121" width="14" height="6" fill="#acdea6"/>
<rect x="516" y="121" width="15" height="6" fill="#bfe6b9"/>
<rect x="531" y="121" width="15" height="6" fill="#d3eecd"/>
<rect x="546" y="121" width="30" height="6" fill="#d9f0d3"/>
<rect x="576" y="121" width="15" height="6" fill="#cdebc6"/>
<rect x="591" y="121" width="15" height="6" fill="#c7e9c0"/>
<rect x="606" y="121" width="16" height="6" fill="#e2f4dd"/>
<rect x="84" y="127" width="14" height="5" fill="#def2d8"/>
<rect x="98" y="127" width="15" height="5" fill="#e1f3db"/>
<rect x="113" y="127" width="15" height="5" fill="#def2d8"/>
<rect x="128" y="127" width="15" height="5" fill="#c7e9c0"/>
<rect x="143" y="127" width="15" height="5" fill="#b4e1ae"/>
<rect x="158" y="127" width="15" height="5" fill="#aadda4"/>
<rect x="173" y="127" width="30" height="5" fill="#bee5b7"/>
<rect x="203" y="127" width="15" height="5" fill="#daf1d5"/>
<rect x="218" y="127" width="44" height="5" fill="#e5f5e0"/>
<rect x="262" y="127" width="15" height="5" fill="#e2f4dd"/>
<rect x="277" y="127" width="15" height="5" fill="#d9f0d3"/>
<rect x="292" y="127" width="15" height="5" fill="#c7e9c0"/>
<rect x="307" y="127" width="15" height="5" fill="#bfe6b9"/>
<rect x="322" y="127" width="15" height="5" fill="#b8e3b1"/>
<rect x="337" y="127" width="15" height="5" fill="#acdea6"/>
<rect x="352" y="127" width="15" height="5" fill="#a5db9f"/>
<rect x="367" y="127" width="15" height="5" fill="#acdea6"/>
<rect x="382" y="127" width="15" height="5" fill="#bfe6b9"/>
<rect x="397" y="127" width="15" height="5" fill="#c3e7bc"/>
<rect x="412" y="127" width="15" height="5" fill="#74c476"/>
<rect x="427" y="127" width="15" height="5" fill="#29914a"/>
<rect x="442" y="127" width="15" height="5" fill="#55b567"/>
<rect x="457" y="127" width="15" height="5" fill="#bce4b5"/>
<rect x="472" y="127" width="15" height="5" fill="#d0edca"/>
<rect x="487" y="127" width="15" height="5" fill="#a5db9f"/>
<rect x="502" y="127" width="14" height="5" fill="#7dc87d"/>
<rect x="516" y="127" width="15" height="5" fill="#98d594"/>
<rect x="531" y="127" width="15" height="5" fill="#d3eecd"/>
<rect x="546" y="127" width="15" height="5" fill="#dff3da"/>
<rect x="561" y="127" width="15" height="5" fill="#d9f0d3"/>
<rect x="576" y="127" width="15" height="5" fill="#cdebc6"/>
<rect x="591" y="127" width="15" height="5" fill="#c7e9c0"/>
<rect x="606" y="127" width="16" height="5" fill="#dff3da"/>
<rect x="84" y="132" width="29" height="5" fill="#daf1d5"/>
<rect x="113" y="132" width="15" height="5" fill="#def2d8"/>
<rect x="128" y="132" width="15" height="5" fill="#d0edca"/>
<rect x="143" y="132" width="15" height="5" fill="#c7e9c0"/>
<rect x="158" y="132" width="30" height="5" fill="#c3e7bc"/>
<rect x="188" y="132" width="15" height="5" fill="#bee5b7"/>
<rect x="203" y="132" width="15" height="5" fill="#d6efd0"/>
<rect x="218" y="132" width="15" height="5" fill="#e5f5e0"/>
<rect x="233" y="132" width="15" height="5" fill="#e7f6e2"/>
<rect x="248" y="132" width="14" height="5" fill="#e5f5e0"/>
<rect x="262" y="132" width="15" height="5" fill="#e2f4dd"/>
<rect x="277" y="132" width="15" height="5" fill="#d3eecd"/>
<rect x="292" y="132" width="15" height="5" fill="#b4e1ae"/>
<rect x="307" y="132" width="15" height="5" fill="#acdea6"/>
<rect x="322" y="132" width="15" height="5" fill="#b4e1ae"/>
<rect x="337" y="132" width="15" height="5" fill="#acdea6"/>
<rect x="352" y="132" width="15" height="5" fill="#a1d99b"/>
<rect x="367" y="132" width="15" height="5" fill="#74c476"/>
<rect x="382" y="132" width="15" height="5" fill="#94d390"/>
<rect x="397" y="132" width="15" height="5" fill="#98d594"/>
<rect x="412" y="132" width="15" height="5" fill="#6abf71"/>
<rect x="427" y="132" width="15" height="5" fill="#329b51"/>
<rect x="442" y="132" width="15" height="5" fill="#55b567"/>
<rect x="457" y="132" width="15" height="5" fill="#b8e3b1"/>
<rect x="472" y="132" width="15" height="5" fill="#cdebc6"/>
<rect x="487" y="132" width="15" height="5" fill="#82ca81"/>
<rect x="502" y="132" width="14" height="5" fill="#4bb062"/>
<rect x="516" y="132" width="15" height="5" fill="#8ace88"/>
<rect x="531" y="132" width="15" height="5" fill="#d3eecd"/>
<rect x="546" y="132" width="15" height="5" fill="#e5f5e0"/>
<rect x="561" y="132" width="15" height="5" fill="#dcf1d6"/>
<rect x="576" y="132" width="15" height="5" fill="#cdebc6"/>
<rect x="591" y="132" width="15" height="5" fill="#c3e7bc"/>
<rect x="606" y="132" width="16" height="5" fill="#dcf1d6"/>
<rect x="84" y="137" width="14" height="5" fill="#b4e1ae"/>
<rect x="98" y="137" width="15" height="5" fill="#bee5b7"/>
<rect x="113" y="137" width="15" height="5" fill="#ceecc8"/>
<rect x="128" y="137" width="15" height="5" fill="#daf1d5"/>
<rect x="143" y="137" width="15" height="5" fill="#def2d8"/>
<rect x="158" y="137" width="15" height="5" fill="#e1f3db"/>
<rect x="173" y="137" width="15" height="5" fill="#c7e9c0"/>
<rect x="188" y="137" width="15" height="5" fill="#b4e1ae"/>
<rect x="203" y="137" width="15" height="5" fill="#d3eecd"/>
<rect x="218" y="137" width="30" height="5" fill="#e7f6e2"/>
<rect x="248" y="137" width="14" height="5" fill="#e2f4dd"/>
<rect x="262" y="137" width="15" height="5" fill="#e1f3db"/>
<rect x="277" y="137" width="15" height="5" fill="#bee5b7"/>
<rect x="292" y="137" width="15" height="5" fill="#96d492"/>
<rect x="307" y="137" width="15" height="5" fill="#8ace88"/>
<rect x="322" y="137" width="30" height="5" fill="#a9dca2"/>
<rect x="352" y="137" width="15" height="5" fill="#9cd797"/>
<rect x="367" y="137" width="15" height="5" fill="#5ab86a"/>
<rect x="382" y="137" width="15" height="5" fill="#74c476"/>
<rect x="397" y="137" width="15" height="5" fill="#7dc87d"/>
<rect x="412" y="137" width="15" height="5" fill="#6fc274"/>
<rect x="427" y="137" width="15" height="5" fill="#41ab5d"/>
<rect x="442" y="137" width="15" height="5" fill="#55b567"/>
<rect x="457" y="137" width="15" height="5" fill="#a9dca2"/>
<rect x="472" y="137" width="15" height="5" fill="#bce4b5"/>
<rect x="487" y="137" width="15" height="5" fill="#74c476"/>
<rect x="502" y="137" width="14" height="5" fill="#38a156"/>
<rect x="516" y="137" width="15" height="5" fill="#74c476"/>
<rect x="531" y="137" width="15" height="5" fill="#d3eecd"/>
<rect x="546" y="137" width="15" height="5" fill="#dff3da"/>
<rect x="561" y="137" width="15" height="5" fill="#dcf1d6"/>
<rect x="576" y="137" width="15" height="5" fill="#d0edca"/>
<rect x="591" y="137" width="15" height="5" fill="#caeac3"/>
<rect x="606" y="137" width="16" height="5" fill="#c7e9c0"/>
<rect x="84" y="142" width="14" height="5" fill="#74c476"/>
<rect x="98" y="142" width="15" height="5" fill="#8ace88"/>
<rect x="113" y="142" width="15" height="5" fill="#aadda4"/>
<rect x="128" y="142" width="15" height="5" fill="#d6efd0"/>
<rect x="143" y="142" width="15" height="5" fill="#def2d8"/>
<rect x="158" y="142" width="15" height="5" fill="#e1f3db"/>
<rect x="173" y="142" width="15" height="5" fill="#c3e7bc"/>
<rect x="188" y="142" width="15" height="5" fill="#a1d99b"/>
<rect x="203" y="142" width="15" height="5" fill="#bee5b7"/>
<rect x="218" y="142" width="15" height="5" fill="#daf1d5"/>
<rect x="233" y="142" width="15" height="5" fill="#e1f3db"/>
<rect x="248" y="142" width="14" height="5" fill="#d6efd0"/>
<rect x="262" y="142" width="15" height="5" fill="#cdebc6"/>
<rect x="277" y="142" width="15" height="5" fill="#aadda4"/>
<rect x="292" y="142" width="15" height="5" fill="#8ace88"/>
<rect x="307" y="142" width="15" height="5" fill="#74c476"/>
<rect x="322" y="142" width="15" height="5" fill="#8fd18c"/>
<rect x="337" y="142" width="15" height="5" fill="#98d594"/>
<rect x="352" y="142" width="15" height="5" fill="#65bc6e"/>
<rect x="367" y="142" width="15" height="5" fill="#55b567"/>
<rect x="382" y="142" width="15" height="5" fill="#74c476"/>
<rect x="397" y="142" width="15" height="5" fill="#8ace88"/>
<rect x="412" y="142" width="15" height="5" fill="#65bc6e"/>
<rect x="427" y="142" width="15" height="5" fill="#41ab5d"/>
<rect x="442" y="142" width="15" height="5" fill="#50b264"/>
<rect x="457" y="142" width="15" height="5" fill="#98d594"/>
<rect x="472" y="142" width="15" height="5" fill="#acdea6"/>
<rect x="487" y="142" width="15" height="5" fill="#5ab86a"/>
<rect x="502" y="142" width="14" height="5" fill="#29914a"/>
<rect x="516" y="142" width="15" height="5" fill="#74c476"/>
<rect x="531" y="142" width="15" height="5" fill="#d0edca"/>
<rect x="546" y="142" width="15" height="5" fill="#dcf1d6"/>
<rect x="561" y="142" width="15" height="5" fill="#d9f0d3"/>
<rect x="576" y="142" width="15" height="5" fill="#cdebc6"/>
<rect x="591" y="142" width="15" height="5" fill="#c7e9c0"/>
<rect x="606" y="142" width="16" height="5" fill="#8ace88"/>
<rect x="84" y="147" width="14" height="5" fill="#238b45"/>
<rect x="98" y="147" width="15" height="5" fill="#4eb163"/>
<rect x="113" y="147" width="15" height="5" fill="#a1d99b"/>
<rect x="128" y="147" width="15" height="5" fill="#ceecc8"/>
<rect x="143" y="147" width="15" height="5" fill="#daf1d5"/>
<rect x="158" y="147" width="15" height="5" fill="#def2d8"/>
<rect x="173" y="147" width="15" height="5" fill="#bee5b7"/>
<rect x="188" y="147" width="15" height="5" fill="#96d492"/>
<rect x="203" y="147" width="15" height="5" fill="#aadda4"/>
<rect x="218" y="147" width="15" height="5" fill="#bee5b7"/>
<rect x="233" y="147" width="15" height="5" fill="#d0edca"/>
<rect x="248" y="147" width="14" height="5" fill="#c3e7bc"/>
<rect x="262" y="147" width="15" height="5" fill="#b4e1ae"/>
<rect x="277" y="147" width="15" height="5" fill="#96d492"/>
<rect x="292" y="147" width="15" height="5" fill="#7dc87d"/>
<rect x="307" y="147" width="15" height="5" fill="#65bc6e"/>
<rect x="322" y="147" width="15" height="5" fill="#74c476"/>
<rect x="337" y="147" width="15" height="5" fill="#82ca81"/>
<rect x="352" y="147" width="15" height="5" fill="#4bb062"/>
<rect x="367" y="147" width="15" height="5" fill="#50b264"/>
<rect x="382" y="147" width="15" height="5" fill="#7dc87d"/>
<rect x="397" y="147" width="15" height="5" fill="#8ace88"/>
<rect x="412" y="147" width="15" height="5" fill="#5ab86a"/>
<rect x="427" y="147" width="15" height="5" fill="#41ab5d"/>
<rect x="442" y="147" width="15" height="5" fill="#4bb062"/>
<rect x="457" y="147" width="15" height="5" fill="#8ace88"/>
<rect x="472" y="147" width="15" height="5" fill="#82ca81"/>
<rect x="487" y="147" width="15" height="5" fill="#29914a"/>
<rect x="502" y="147" width="14" height="5" fill="#127c38"/>
<rect x="516" y="147" width="15" height="5" fill="#74c476"/>
<rect x="531" y="147" width="15" height="5" fill="#c7e9c0"/>
<rect x="546" y="147" width="30" height="5" fill="#d0edca"/>
<rect x="576" y="147" width="15" height="5" fill="#c3e7bc"/>
<rect x="591" y="147" width="15" height="5" fill="#b8e3b1"/>
<rect x="606" y="147" width="16" height="5" fill="#4bb062"/>
<rect x="84" y="152" width="14" height="5" fill="#127c38"/>
<rect x="98" y="152" width="15" height="5" fill="#67be70"/>
<rect x="113" y="152" width="15" height="5" fill="#a1d99b"/>
<rect x="128" y="152" width="15" height="5" fill="#c7e9c0"/>
<rect x="143" y="152" width="30" height="5" fill="#d6efd0"/>
<rect x="173" y="152" width="15" height="5" fill="#b4e1ae"/>
<rect x="188" y="152" width="30" height="5" fill="#7fc97f"/>
<rect x="218" y="152" width="15" height="5" fill="#96d492"/>
<rect x="233" y="152" width="15" height="5" fill="#a1d99b"/>
<rect x="248" y="152" width="14" height="5" fill="#aadda4"/>
<rect x="262" y="152" width="15" height="5" fill="#a1d99b"/>
<rect x="277" y="152" width="15" height="5" fill="#98d594"/>
<rect x="292" y="152" width="15" height="5" fill="#7dc87d"/>
<rect x="307" y="152" width="15" height="5" fill="#41ab5d"/>
<rect x="322" y="152" width="15" height="5" fill="#3ba558"/>
<rect x="337" y="152" width="45" height="5" fill="#41ab5d"/>
<rect x="382" y="152" width="15" height="5" fill="#7dc87d"/>
<rect x="397" y="152" width="15" height="5" fill="#98d594"/>
<rect x="412" y="152" width="15" height="5" fill="#5ab86a"/>
<rect x="427" y="152" width="15" height="5" fill="#329b51"/>
<rect x="442" y="152" width="15" height="5" fill="#3ba558"/>
<rect x="457" y="152" width="15" height="5" fill="#7dc87d"/>
<rect x="472" y="152" width="15" height="5" fill="#4bb062"/>
<rect x="487" y="152" width="15" height="5" fill="#077331"/>
<rect x="502" y="152" width="14" height="5" fill="#0a7634"/>
<rect x="516" y="152" width="15" height="5" fill="#74c476"/>
<rect x="531" y="152" width="15" height="5" fill="#b4e1ae"/>
<rect x="546" y="152" width="15" height="5" fill="#bce4b5"/>
<rect x="561" y="152" width="15" height="5" fill="#b4e1ae"/>
<rect x="576" y="152" width="15" height="5" fill="#acdea6"/>
<rect x="591" y="152" width="15" height="5" fill="#a5db9f"/>
<rect x="606" y="152" width="16" height="5" fill="#329b51"/>
<rect x="84" y="157" width="14" height="6" fill="#127c38"/>
<rect x="98" y="157" width="15" height="6" fill="#7fc97f"/>
<rect x="113" y="157" width="15" height="6" fill="#aadda4"/>
<rect x="128" y="157" width="15" height="6" fill="#c3e7bc"/>
<rect x="143" y="157" width="15" height="6" fill="#d0edca"/>
<rect x="158" y="157" width="15" height="6" fill="#d6efd0"/>
<rect x="173" y="157" width="15" height="6" fill="#a1d99b"/>
<rect x="188" y="157" width="15" height="6" fill="#74c476"/>
<rect x="203" y="157" width="15" height="6" fill="#67be70"/>
<rect x="218" y="157" width="15" height="6" fill="#74c476"/>
<rect x="233" y="157" width="15" height="6" fill="#7fc97f"/>
<rect x="248" y="157" width="14" height="6" fill="#aadda4"/>
<rect x="262" y="157" width="15" height="6" fill="#a1d99b"/>
<rect x="277" y="157" width="15" height="6" fill="#9cd797"/>
<rect x="292" y="157" width="15" height="6" fill="#82ca81"/>
<rect x="307" y="157" width="15" height="6" fill="#41ab5d"/>
<rect x="322" y="157" width="15" height="6" fill="#2c954c"/>
<rect x="337" y="157" width="15" height="6" fill="#38a156"/>
<rect x="352" y="157" width="30" height="6" fill="#329b51"/>
<rect x="382" y="157" width="30" height="6" fill="#5ab86a"/>
<rect x="412" y="157" width="15" height="6" fill="#50b264"/>
<rect x="427" y="157" width="15" height="6" fill="#3ba558"/>
<rect x="442" y="157" width="15" height="6" fill="#41ab5d"/>
<rect x="457" y="157" width="15" height="6" fill="#65bc6e"/>
<rect x="472" y="157" width="15" height="6" fill="#41ab5d"/>
<rect x="487" y="157" width="29" height="6" fill="#0a7634"/>
<rect x="516" y="157" width="15" height="6" fill="#6abf71"/>
<rect x="531" y="157" width="15" height="6" fill="#a1d99b"/>
<rect x="546" y="157" width="15" height="6" fill="#a9dca2"/>
<rect x="561" y="157" width="15" height="6" fill="#a1d99b"/>
<rect x="576" y="157" width="15" height="6" fill="#8fd18c"/>
<rect x="591" y="157" width="15" height="6" fill="#82ca81"/>
<rect x="606" y="157" width="16" height="6" fill="#38a156"/>
<rect x="84" y="163" width="14" height="5" fill="#238b45"/>
<rect x="98" y="163" width="15" height="5" fill="#7fc97f"/>
<rect x="113" y="163" width="15" height="5" fill="#a1d99b"/>
<rect x="128" y="163" width="15" height="5" fill="#aadda4"/>
<rect x="143" y="163" width="30" height="5" fill="#c7e9c0"/>
<rect x="173" y="163" width="15" height="5" fill="#7dc87d"/>
<rect x="188" y="163" width="15" height="5" fill="#3ba558"/>
<rect x="203" y="163" width="15" height="5" fill="#2c954c"/>
<rect x="218" y="163" width="15" height="5" fill="#359e53"/>
<rect x="233" y="163" width="15" height="5" fill="#41ab5d"/>
<rect x="248" y="163" width="29" height="5" fill="#8ace88"/>
<rect x="277" y="163" width="15" height="5" fill="#9cd797"/>
<rect x="292" y="163" width="15" height="5" fill="#78c67a"/>
<rect x="307" y="163" width="15" height="5" fill="#38a156"/>
<rect x="322" y="163" width="15" height="5" fill="#127c38"/>
<rect x="337" y="163" width="30" height="5" fill="#1c8540"/>
<rect x="367" y="163" width="15" height="5" fill="#157f3b"/>
<rect x="382" y="163" width="15" height="5" fill="#329b51"/>
<rect x="397" y="163" width="15" height="5" fill="#41ab5d"/>
<rect x="412" y="163" width="15" height="5" fill="#4bb062"/>
<rect x="427" y="163" width="30" height="5" fill="#41ab5d"/>
<rect x="457" y="163" width="15" height="5" fill="#50b264"/>
<rect x="472" y="163" width="15" height="5" fill="#38a156"/>
<rect x="487" y="163" width="29" height="5" fill="#077331"/>
<rect x="516" y="163" width="15" height="5" fill="#41ab5d"/>
<rect x="531" y="163" width="15" height="5" fill="#82ca81"/>
<rect x="546" y="163" width="15" height="5" fill="#98d594"/>
<rect x="561" y="163" width="15" height="5" fill="#a1d99b"/>
<rect x="576" y="163" width="15" height="5" fill="#82ca81"/>
<rect x="591" y="163" width="15" height="5" fill="#50b264"/>
<rect x="606" y="163" width="16" height="5" fill="#2c954c"/>
<rect x="84" y="168" width="14" height="5" fill="#329b51"/>
<rect x="98" y="168" width="15" height="5" fill="#5ab86a"/>
<rect x="113" y="168" width="15" height="5" fill="#74c476"/>
<rect x="128" y="168" width="15" height="5" fill="#96d492"/>
<rect x="143" y="168" width="30" height="5" fill="#bee5b7"/>
<rect x="173" y="168" width="15" height="5" fill="#82ca81"/>
<rect x="188" y="168" width="15" height="5" fill="#38a156"/>
<rect x="203" y="168" width="15" height="5" fill="#29914a"/>
<rect x="218" y="168" width="15" height="5" fill="#2f984f"/>
<rect x="233" y="168" width="15" height="5" fill="#3ea85b"/>
<rect x="248" y="168" width="14" height="5" fill="#6abf71"/>
<rect x="262" y="168" width="15" height="5" fill="#6fc274"/>
<rect x="277" y="168" width="15" height="5" fill="#7dc87d"/>
<rect x="292" y="168" width="15" height="5" fill="#5ab86a"/>
<rect x="307" y="168" width="15" height="5" fill="#359e53"/>
<rect x="322" y="168" width="15" height="5" fill="#127c38"/>
<rect x="337" y="168" width="15" height="5" fill="#157f3b"/>
<rect x="352" y="168" width="15" height="5" fill="#077331"/>
<rect x="367" y="168" width="15" height="5" fill="#006127"/>
<rect x="382" y="168" width="15" height="5" fill="#238b45"/>
<rect x="397" y="168" width="15" height="5" fill="#38a156"/>
<rect x="412" y="168" width="15" height="5" fill="#4bb062"/>
<rect x="427" y="168" width="15" height="5" fill="#41ab5d"/>
<rect x="442" y="168" width="30" height="5" fill="#4bb062"/>
<rect x="472" y="168" width="15" height="5" fill="#359e53"/>
<rect x="487" y="168" width="29" height="5" fill="#006d2c"/>
<rect x="516" y="168" width="15" height="5" fill="#329b51"/>
<rect x="531" y="168" width="15" height="5" fill="#86cc85"/>
<rect x="546" y="168" width="15" height="5" fill="#9cd797"/>
<rect x="561" y="168" width="15" height="5" fill="#a1d99b"/>
<rect x="576" y="168" width="15" height="5" fill="#6abf71"/>
<rect x="591" y="168" width="15" height="5" fill="#3ea85b"/>
<rect x="606" y="168" width="16" height="5" fill="#329b51"/>
<rect x="84" y="173" width="14" height="5" fill="#238b45"/>
<rect x="98" y="173" width="15" height="5" fill="#41ab5d"/>
<rect x="113" y="173" width="15" height="5" fill="#67be70"/>
<rect x="128" y="173" width="15" height="5" fill="#8ace88"/>
<rect x="143" y="173" width="15" height="5" fill="#aadda4"/>
<rect x="158" y="173" width="15" height="5" fill="#b4e1ae"/>
<rect x="173" y="173" width="15" height="5" fill="#7dc87d"/>
<rect x="188" y="173" width="15" height="5" fill="#38a156"/>
<rect x="203" y="173" width="30" height="5" fill="#329b51"/>
<rect x="233" y="173" width="15" height="5" fill="#3ea85b"/>
<rect x="248" y="173" width="29" height="5" fill="#41ab5d"/>
<rect x="277" y="173" width="15" height="5" fill="#3ea85b"/>
<rect x="292" y="173" width="15" height="5" fill="#329b51"/>
<rect x="307" y="173" width="15" height="5" fill="#157f3b"/>
<rect x="322" y="173" width="15" height="5" fill="#006529"/>
<rect x="337" y="173" width="15" height="5" fill="#077331"/>
<rect x="352" y="173" width="15" height="5" fill="#0e7936"/>
<rect x="367" y="173" width="15" height="5" fill="#03702e"/>
<rect x="382" y="173" width="15" height="5" fill="#1c8540"/>
<rect x="397" y="173" width="15" height="5" fill="#329b51"/>
<rect x="412" y="173" width="15" height="5" fill="#4bb062"/>
<rect x="427" y="173" width="15" height="5" fill="#46ae5f"/>
<rect x="442" y="173" width="15" height="5" fill="#50b264"/>
<rect x="457" y="173" width="15" height="5" fill="#65bc6e"/>
<rect x="472" y="173" width="15" height="5" fill="#3ea85b"/>
<rect x="487" y="173" width="15" height="5" fill="#006529"/>
<rect x="502" y="173" width="14" height="5" fill="#006127"/>
<rect x="516" y="173" width="15" height="5" fill="#2c954c"/>
<rect x="531" y="173" width="15" height="5" fill="#86cc85"/>
<rect x="546" y="173" width="15" height="5" fill="#a9dca2"/>
<rect x="561" y="173" width="15" height="5" fill="#a1d99b"/>
<rect x="576" y="173" width="15" height="5" fill="#6abf71"/>
<rect x="591" y="173" width="15" height="5" fill="#3ea85b"/>
<rect x="606" y="173" width="16" height="5" fill="#38a156"/>
<rect x="84" y="178" width="14" height="5" fill="#127c38"/>
<rect x="98" y="178" width="15" height="5" fill="#41ab5d"/>
<rect x="113" y="178" width="15" height="5" fill="#67be70"/>
<rect x="128" y="178" width="15" height="5" fill="#7fc97f"/>
<rect x="143" y="178" width="15" height="5" fill="#8ace88"/>
<rect x="158" y="178" width="15" height="5" fill="#a1d99b"/>
<rect x="173" y="178" width="15" height="5" fill="#8ace88"/>
<rect x="188" y="178" width="15" height="5" fill="#5ab86a"/>
<rect x="203" y="178" width="15" height="5" fill="#38a156"/>
<rect x="218" y="178" width="15" height="5" fill="#2f984f"/>
<rect x="233" y="178" width="15" height="5" fill="#29914a"/>
<rect x="248" y="178" width="14" height="5" fill="#359e53"/>
<rect x="262" y="178" width="15" height="5" fill="#3ea85b"/>
<rect x="277" y="178" width="15" height="5" fill="#3ba558"/>
<rect x="292" y="178" width="15" height="5" fill="#329b51"/>
<rect x="307" y="178" width="15" height="5" fill="#157f3b"/>
<rect x="322" y="178" width="15" height="5" fill="#006529"/>
<rect x="337" y="178" width="15" height="5" fill="#00692a"/>
<rect x="352" y="178" width="15" height="5" fill="#006d2c"/>
<rect x="367" y="178" width="30" height="5" fill="#005824"/>
<rect x="397" y="178" width="15" height="5" fill="#1c8540"/>
<rect x="412" y="178" width="15" height="5" fill="#3ba558"/>
<rect x="427" y="178" width="15" height="5" fill="#4bb062"/>
<rect x="442" y="178" width="15" height="5" fill="#55b567"/>
<rect x="457" y="178" width="15" height="5" fill="#6fc274"/>
<rect x="472" y="178" width="15" height="5" fill="#3ba558"/>
<rect x="487" y="178" width="15" height="5" fill="#006529"/>
<rect x="502" y="178" width="14" height="5" fill="#005d25"/>
<rect x="516" y="178" width="15" height="5" fill="#268e47"/>
<rect x="531" y="178" width="15" height="5" fill="#82ca81"/>
<rect x="546" y="178" width="15" height="5" fill="#a5db9f"/>
<rect x="561" y="178" width="15" height="5" fill="#7dc87d"/>
<rect x="576" y="178" width="15" height="5" fill="#3ba558"/>
<rect x="591" y="178" width="15" height="5" fill="#329b51"/>
<rect x="606" y="178" width="16" height="5" fill="#208842"/>
<rect x="84" y="183" width="14" height="5" fill="#127c38"/>
<rect x="98" y="183" width="15" height="5" fill="#329b51"/>
<rect x="113" y="183" width="15" height="5" fill="#67be70"/>
<rect x="128" y="183" width="45" height="5" fill="#7fc97f"/>
<rect x="173" y="183" width="15" height="5" fill="#5ab86a"/>
<rect x="188" y="183" width="15" height="5" fill="#359e53"/>
<rect x="203" y="183" width="15" height="5" fill="#29914a"/>
<rect x="218" y="183" width="15" height="5" fill="#19823e"/>
<rect x="233" y="183" width="15" height="5" fill="#077331"/>
<rect x="248" y="183" width="14" height="5" fill="#29914a"/>
<rect x="262" y="183" width="15" height="5" fill="#46ae5f"/>
<rect x="277" y="183" width="15" height="5" fill="#4bb062"/>
<rect x="292" y="183" width="15" height="5" fill="#3ba558"/>
<rect x="307" y="183" width="15" height="5" fill="#077331"/>
<rect x="322" y="183" width="30" height="5" fill="#005824"/>
<rect x="352" y="183" width="15" height="5" fill="#006d2c"/>
<rect x="367" y="183" width="15" height="5" fill="#005824"/>
<rect x="382" y="183" width="15" height="5" fill="#00692a"/>
<rect x="397" y="183" width="15" height="5" fill="#1c8540"/>
<rect x="412" y="183" width="15" height="5" fill="#359e53"/>
<rect x="427" y="183" width="15" height="5" fill="#3ba558"/>
<rect x="442" y="183" width="15" height="5" fill="#50b264"/>
<rect x="457" y="183" width="15" height="5" fill="#65bc6e"/>
<rect x="472" y="183" width="15" height="5" fill="#3ba558"/>
<rect x="487" y="183" width="15" height="5" fill="#00692a"/>
<rect x="502" y="183" width="14" height="5" fill="#005020"/>
<rect x="516" y="183" width="15" height="5" fill="#0a7634"/>
<rect x="531" y="183" width="15" height="5" fill="#65bc6e"/>
<rect x="546" y="183" width="15" height="5" fill="#8ace88"/>
<rect x="561" y="183" width="15" height="5" fill="#65bc6e"/>
<rect x="576" y="183" width="15" height="5" fill="#329b51"/>
<rect x="591" y="183" width="15" height="5" fill="#2c954c"/>
<rect x="606" y="183" width="16" height="5" fill="#006d2c"/>
<rect x="84" y="188" width="14" height="5" fill="#127c38"/>
<rect x="98" y="188" width="15" height="5" fill="#19823e"/>
<rect x="113" y="188" width="15" height="5" fill="#50b264"/>
<rect x="128" y="188" width="15" height="5" fill="#8ace88"/>
<rect x="143" y="188" width="15" height="5" fill="#94d390"/>
<rect x="158" y="188" width="15" height="5" fill="#74c476"/>
<rect x="173" y="188" width="15" height="5" fill="#359e53"/>
<rect x="188" y="188" width="15" height="5" fill="#238b45"/>
<rect x="203" y="188" width="15" height="5" fill="#19823e"/>
<rect x="218" y="188" width="30" height="5" fill="#006127"/>
<rect x="248" y="188" width="14" height="5" fill="#238b45"/>
<rect x="262" y="188" width="15" height="5" fill="#46ae5f"/>
<rect x="277" y="188" width="15" height="5" fill="#60ba6c"/>
<rect x="292" y="188" width="15" height="5" fill="#5ab86a"/>
<rect x="307" y="188" width="15" height="5" fill="#268e47"/>
<rect x="322" y="188" width="15" height="5" fill="#0a7634"/>
<rect x="337" y="188" width="15" height="5" fill="#005422"/>
<rect x="352" y="188" width="30" height="5" fill="#005d25"/>
<rect x="382" y="188" width="30" height="5" fill="#329b51"/>
<rect x="412" y="188" width="15" height="5" fill="#359e53"/>
<rect x="427" y="188" width="15" height="5" fill="#3ba558"/>
<rect x="442" y="188" width="30" height="5" fill="#5ab86a"/>
<rect x="472" y="188" width="15" height="5" fill="#2c954c"/>
<rect x="487" y="188" width="15" height="5" fill="#077331"/>
<rect x="502" y="188" width="14" height="5" fill="#006d2c"/>
<rect x="516" y="188" width="15" height="5" fill="#127c38"/>
<rect x="531" y="188" width="15" height="5" fill="#3ea85b"/>
<rect x="546" y="188" width="15" height="5" fill="#60ba6c"/>
<rect x="561" y="188" width="15" height="5" fill="#3ea85b"/>
<rect x="576" y="188" width="15" height="5" fill="#19823e"/>
<rect x="591" y="188" width="15" height="5" fill="#00692a"/>
<rect x="606" y="188" width="16" height="5" fill="#006d2c"/>
<rect x="84" y="193" width="14" height="6" fill="#127c38"/>
<rect x="98" y="193" width="15" height="6" fill="#006529"/>
<rect x="113" y="193" width="15" height="6" fill="#41ab5d"/>
<rect x="128" y="193" width="15" height="6" fill="#86cc85"/>
<rect x="143" y="193" width="15" height="6" fill="#8fd18c"/>
<rect x="158" y="193" width="15" height="6" fill="#50b264"/>
<rect x="173" y="193" width="15" height="6" fill="#2c954c"/>
<rect x="188" y="193" width="15" height="6" fill="#077331"/>
<rect x="203" y="193" width="15" height="6" fill="#0e7936"/>
<rect x="218" y="193" width="15" height="6" fill="#03702e"/>
<rect x="233" y="193" width="15" height="6" fill="#157f3b"/>
<rect x="248" y="193" width="14" height="6" fill="#2c954c"/>
<rect x="262" y="193" width="15" height="6" fill="#41ab5d"/>
<rect x="277" y="193" width="30" height="6" fill="#50b264"/>
<rect x="307" y="193" width="15" height="6" fill="#329b51"/>
<rect x="322" y="193" width="15" height="6" fill="#157f3b"/>
<rect x="337" y="193" width="15" height="6" fill="#006d2c"/>
<rect x="352" y="193" width="15" height="6" fill="#03702e"/>
<rect x="367" y="193" width="15" height="6" fill="#19823e"/>
<rect x="382" y="193" width="30" height="6" fill="#41ab5d"/>
<rect x="412" y="193" width="15" height="6" fill="#3ba558"/>
<rect x="427" y="193" width="15" height="6" fill="#55b567"/>
<rect x="442" y="193" width="15" height="6" fill="#82ca81"/>
<rect x="457" y="193" width="15" height="6" fill="#86cc85"/>
<rect x="472" y="193" width="15" height="6" fill="#4bb062"/>
<rect x="487" y="193" width="15" height="6" fill="#29914a"/>
<rect x="502" y="193" width="14" height="6" fill="#238b45"/>
<rect x="516" y="193" width="15" height="6" fill="#2c954c"/>
<rect x="531" y="193" width="15" height="6" fill="#41ab5d"/>
<rect x="546" y="193" width="15" height="6" fill="#3ea85b"/>
<rect x="561" y="193" width="15" height="6" fill="#2f984f"/>
<rect x="576" y="193" width="15" height="6" fill="#19823e"/>
<rect x="591" y="193" width="15" height="6" fill="#208842"/>
<rect x="606" y="193" width="16" height="6" fill="#238b45"/>
<rect x="84" y="199" width="14" height="5" fill="#127c38"/>
<rect x="98" y="199" width="15" height="5" fill="#29914a"/>
<rect x="113" y="199" width="15" height="5" fill="#41ab5d"/>
<rect x="128" y="199" width="15" height="5" fill="#6abf71"/>
<rect x="143" y="199" width="15" height="5" fill="#86cc85"/>
<rect x="158" y="199" width="15" height="5" fill="#50b264"/>
<rect x="173" y="199" width="15" height="5" fill="#329b51"/>
<rect x="188" y="199" width="30" height="5" fill="#238b45"/>
<rect x="218" y="199" width="15" height="5" fill="#127c38"/>
<rect x="233" y="199" width="15" height="5" fill="#238b45"/>
<rect x="248" y="199" width="14" height="5" fill="#38a156"/>
<rect x="262" y="199" width="15" height="5" fill="#3ea85b"/>
<rect x="277" y="199" width="15" height="5" fill="#38a156"/>
<rect x="292" y="199" width="15" height="5" fill="#4bb062"/>
<rect x="307" y="199" width="15" height="5" fill="#55b567"/>
<rect x="322" y="199" width="15" height="5" fill="#238b45"/>
<rect x="337" y="199" width="15" height="5" fill="#00692a"/>
<rect x="352" y="199" width="15" height="5" fill="#006529"/>
<rect x="367" y="199" width="15" height="5" fill="#19823e"/>
<rect x="382" y="199" width="15" height="5" fill="#3ba558"/>
<rect x="397" y="199" width="30" height="5" fill="#5ab86a"/>
<rect x="427" y="199" width="15" height="5" fill="#55b567"/>
<rect x="442" y="199" width="15" height="5" fill="#6fc274"/>
<rect x="457" y="199" width="15" height="5" fill="#82ca81"/>
<rect x="472" y="199" width="15" height="5" fill="#4bb062"/>
<rect x="487" y="199" width="15" height="5" fill="#41ab5d"/>
<rect x="502" y="199" width="14" height="5" fill="#65bc6e"/>
<rect x="516" y="199" width="15" height="5" fill="#82ca81"/>
<rect x="531" y="199" width="15" height="5" fill="#7dc87d"/>
<rect x="546" y="199" width="15" height="5" fill="#4bb062"/>
<rect x="561" y="199" width="15" height="5" fill="#29914a"/>
<rect x="576" y="199" width="15" height="5" fill="#0a7634"/>
<rect x="591" y="199" width="15" height="5" fill="#329b51"/>
<rect x="606" y="199" width="16" height="5" fill="#29914a"/>
<rect x="84" y="204" width="14" height="5" fill="#2c954c"/>
<rect x="98" y="204" width="15" height="5" fill="#5ab86a"/>
<rect x="113" y="204" width="15" height="5" fill="#50b264"/>
<rect x="128" y="204" width="15" height="5" fill="#55b567"/>
<rect x="143" y="204" width="15" height="5" fill="#7dc87d"/>
<rect x="158" y="204" width="15" height="5" fill="#41ab5d"/>
<rect x="173" y="204" width="15" height="5" fill="#29914a"/>
<rect x="188" y="204" width="15" height="5" fill="#0e7936"/>
<rect x="203" y="204" width="15" height="5" fill="#329b51"/>
<rect x="218" y="204" width="15" height="5" fill="#38a156"/>
<rect x="233" y="204" width="29" height="5" fill="#55b567"/>
<rect x="262" y="204" width="15" height="5" fill="#4bb062"/>
<rect x="277" y="204" width="15" height="5" fill="#38a156"/>
<rect x="292" y="204" width="15" height="5" fill="#4bb062"/>
<rect x="307" y="204" width="15" height="5" fill="#3ea85b"/>
<rect x="322" y="204" width="15" height="5" fill="#006d2c"/>
<rect x="337" y="204" width="15" height="5" fill="#005824"/>
<rect x="352" y="204" width="15" height="5" fill="#127c38"/>
<rect x="367" y="204" width="15" height="5" fill="#41ab5d"/>
<rect x="382" y="204" width="15" height="5" fill="#46ae5f"/>
<rect x="397" y="204" width="30" height="5" fill="#5ab86a"/>
<rect x="427" y="204" width="15" height="5" fill="#41ab5d"/>
<rect x="442" y="204" width="15" height="5" fill="#3ea85b"/>
<rect x="457" y="204" width="15" height="5" fill="#50b264"/>
<rect x="472" y="204" width="30" height="5" fill="#3ea85b"/>
<rect x="502" y="204" width="14" height="5" fill="#60ba6c"/>
<rect x="516" y="204" width="15" height="5" fill="#94d390"/>
<rect x="531" y="204" width="15" height="5" fill="#9cd797"/>
<rect x="546" y="204" width="15" height="5" fill="#74c476"/>
<rect x="561" y="204" width="15" height="5" fill="#2f984f"/>
<rect x="576" y="204" width="15" height="5" fill="#1c8540"/>
<rect x="591" y="204" width="15" height="5" fill="#41ab5d"/>
<rect x="606" y="204" width="16" height="5" fill="#29914a"/>
<rect x="84" y="209" width="14" height="5" fill="#38a156"/>
<rect x="98" y="209" width="15" height="5" fill="#6abf71"/>
<rect x="113" y="209" width="30" height="5" fill="#55b567"/>
<rect x="143" y="209" width="15" height="5" fill="#78c67a"/>
<rect x="158" y="209" width="15" height="5" fill="#4bb062"/>
<rect x="173" y="209" width="15" height="5" fill="#329b51"/>
<rect x="188" y="209" width="15" height="5" fill="#208842"/>
<rect x="203" y="209" width="15" height="5" fill="#2f984f"/>
<rect x="218" y="209" width="15" height="5" fill="#38a156"/>
<rect x="233" y="209" width="15" height="5" fill="#6abf71"/>
<rect x="248" y="209" width="14" height="5" fill="#74c476"/>
<rect x="262" y="209" width="15" height="5" fill="#65bc6e"/>
<rect x="277" y="209" width="15" height="5" fill="#5ab86a"/>
<rect x="292" y="209" width="15" height="5" fill="#60ba6c"/>
<rect x="307" y="209" width="15" height="5" fill="#3ea85b"/>
<rect x="322" y="209" width="15" height="5" fill="#157f3b"/>
<rect x="337" y="209" width="15" height="5" fill="#006d2c"/>
<rect x="352" y="209" width="15" height="5" fill="#127c38"/>
<rect x="367" y="209" width="15" height="5" fill="#359e53"/>
<rect x="382" y="209" width="15" height="5" fill="#46ae5f"/>
<rect x="397" y="209" width="30" height="5" fill="#5ab86a"/>
<rect x="427" y="209" width="15" height="5" fill="#41ab5d"/>
<rect x="442" y="209" width="30" height="5" fill="#3ba558"/>
<rect x="472" y="209" width="30" height="5" fill="#268e47"/>
<rect x="502" y="209" width="14" height="5" fill="#50b264"/>
<rect x="516" y="209" width="15" height="5" fill="#a1d99b"/>
<rect x="531" y="209" width="15" height="5" fill="#a9dca2"/>
<rect x="546" y="209" width="15" height="5" fill="#86cc85"/>
<rect x="561" y="209" width="15" height="5" fill="#4bb062"/>
<rect x="576" y="209" width="15" height="5" fill="#329b51"/>
<rect x="591" y="209" width="15" height="5" fill="#38a156"/>
<rect x="606" y="209" width="16" height="5" fill="#29914a"/>
<rect x="84" y="214" width="14" height="5" fill="#38a156"/>
<rect x="98" y="214" width="15" height="5" fill="#3ba558"/>
<rect x="113" y="214" width="15" height="5" fill="#46ae5f"/>
<rect x="128" y="214" width="30" height="5" fill="#55b567"/>
<rect x="158" y="214" width="15" height="5" fill="#3ba558"/>
<rect x="173" y="214" width="15" height="5" fill="#359e53"/>
<rect x="188" y="214" width="15" height="5" fill="#29914a"/>
<rect x="203" y="214" width="15" height="5" fill="#268e47"/>
<rect x="218" y="214" width="15" height="5" fill="#38a156"/>
<rect x="233" y="214" width="29" height="5" fill="#5ab86a"/>
<rect x="262" y="214" width="15" height="5" fill="#6abf71"/>
<rect x="277" y="214" width="15" height="5" fill="#74c476"/>
<rect x="292" y="214" width="15" height="5" fill="#65bc6e"/>
<rect x="307" y="214" width="15" height="5" fill="#2f984f"/>
<rect x="322" y="214" width="15" height="5" fill="#1c8540"/>
<rect x="337" y="214" width="15" height="5" fill="#19823e"/>
<rect x="352" y="214" width="15" height="5" fill="#238b45"/>
<rect x="367" y="214" width="15" height="5" fill="#29914a"/>
<rect x="382" y="214" width="15" height="5" fill="#46ae5f"/>
<rect x="397" y="214" width="15" height="5" fill="#74c476"/>
<rect x="412" y="214" width="15" height="5" fill="#6abf71"/>
<rect x="427" y="214" width="15" height="5" fill="#5ab86a"/>
<rect x="442" y="214" width="15" height="5" fill="#3ea85b"/>
<rect x="457" y="214" width="15" height="5" fill="#3ba558"/>
<rect x="472" y="214" width="15" height="5" fill="#157f3b"/>
<rect x="487" y="214" width="15" height="5" fill="#006d2c"/>
<rect x="502" y="214" width="14" height="5" fill="#29914a"/>
<rect x="516" y="214" width="15" height="5" fill="#94d390"/>
<rect x="531" y="214" width="15" height="5" fill="#a1d99b"/>
<rect x="546" y="214" width="15" height="5" fill="#6abf71"/>
<rect x="561" y="214" width="15" height="5" fill="#38a156"/>
<rect x="576" y="214" width="15" height="5" fill="#359e53"/>
<rect x="591" y="214" width="15" height="5" fill="#60ba6c"/>
<rect x="606" y="214" width="16" height="5" fill="#238b45"/>
<rect x="84" y="219" width="14" height="5" fill="#38a156"/>
<rect x="98" y="219" width="15" height="5" fill="#6abf71"/>
<rect x="113" y="219" width="15" height="5" fill="#74c476"/>
<rect x="128" y="219" width="15" height="5" fill="#6abf71"/>
<rect x="143" y="219" width="15" height="5" fill="#46ae5f"/>
<rect x="158" y="219" width="30" height="5" fill="#38a156"/>
<rect x="188" y="219" width="15" height="5" fill="#46ae5f"/>
<rect x="203" y="219" width="15" height="5" fill="#359e53"/>
<rect x="218" y="219" width="15" height="5" fill="#38a156"/>
<rect x="233" y="219" width="15" height="5" fill="#41ab5d"/>
<rect x="248" y="219" width="14" height="5" fill="#4bb062"/>
<rect x="262" y="219" width="15" height="5" fill="#6abf71"/>
<rect x="277" y="219" width="15" height="5" fill="#6fc274"/>
<rect x="292" y="219" width="15" height="5" fill="#41ab5d"/>
<rect x="307" y="219" width="15" height="5" fill="#1c8540"/>
<rect x="322" y="219" width="30" height="5" fill="#19823e"/>
<rect x="352" y="219" width="15" height="5" fill="#0a7634"/>
<rect x="367" y="219" width="15" height="5" fill="#006d2c"/>
<rect x="382" y="219" width="15" height="5" fill="#29914a"/>
<rect x="397" y="219" width="30" height="5" fill="#74c476"/>
<rect x="427" y="219" width="15" height="5" fill="#4bb062"/>
<rect x="442" y="219" width="30" height="5" fill="#3ea85b"/>
<rect x="472" y="219" width="15" height="5" fill="#0e7936"/>
<rect x="487" y="219" width="15" height="5" fill="#005824"/>
<rect x="502" y="219" width="14" height="5" fill="#1c8540"/>
<rect x="516" y="219" width="15" height="5" fill="#82ca81"/>
<rect x="531" y="219" width="15" height="5" fill="#8ace88"/>
<rect x="546" y="219" width="15" height="5" fill="#41ab5d"/>
<rect x="561" y="219" width="15" height="5" fill="#2c954c"/>
<rect x="576" y="219" width="15" height="5" fill="#329b51"/>
<rect x="591" y="219" width="15" height="5" fill="#3ba558"/>
<rect x="606" y="219" width="16" height="5" fill="#157f3b"/>
<rect x="84" y="224" width="14" height="5" fill="#29914a"/>
<rect x="98" y="224" width="15" height="5" fill="#6fc274"/>
<rect x="113" y="224" width="15" height="5" fill="#7dc87d"/>
<rect x="128" y="224" width="15" height="5" fill="#6abf71"/>
<rect x="143" y="224" width="15" height="5" fill="#46ae5f"/>
<rect x="158" y="224" width="15" height="5" fill="#329b51"/>
<rect x="173" y="224" width="15" height="5" fill="#2f984f"/>
<rect x="188" y="224" width="15" height="5" fill="#38a156"/>
<rect x="203" y="224" width="15" height="5" fill="#359e53"/>
<rect x="218" y="224" width="30" height="5" fill="#38a156"/>
<rect x="248" y="224" width="14" height="5" fill="#3ba558"/>
<rect x="262" y="224" width="15" height="5" fill="#82ca81"/>
<rect x="277" y="224" width="15" height="5" fill="#74c476"/>
<rect x="292" y="224" width="15" height="5" fill="#38a156"/>
<rect x="307" y="224" width="15" height="5" fill="#006d2c"/>
<rect x="322" y="224" width="15" height="5" fill="#006127"/>
<rect x="337" y="224" width="15" height="5" fill="#006d2c"/>
<rect x="352" y="224" width="15" height="5" fill="#077331"/>
<rect x="367" y="224" width="15" height="5" fill="#127c38"/>
<rect x="382" y="224" width="15" height="5" fill="#268e47"/>
<rect x="397" y="224" width="15" height="5" fill="#50b264"/>
<rect x="412" y="224" width="15" height="5" fill="#65bc6e"/>
<rect x="427" y="224" width="15" height="5" fill="#41ab5d"/>
<rect x="442" y="224" width="15" height="5" fill="#4bb062"/>
<rect x="457" y="224" width="15" height="5" fill="#50b264"/>
<rect x="472" y="224" width="15" height="5" fill="#1c8540"/>
<rect x="487" y="224" width="15" height="5" fill="#006127"/>
<rect x="502" y="224" width="14" height="5" fill="#238b45"/>
<rect x="516" y="224" width="30" height="5" fill="#65bc6e"/>
<rect x="546" y="224" width="15" height="5" fill="#38a156"/>
<rect x="561" y="224" width="30" height="5" fill="#1c8540"/>
<rect x="591" y="224" width="15" height="5" fill="#2c954c"/>
<rect x="606" y="224" width="16" height="5" fill="#1c8540"/>
<rect x="84" y="229" width="14" height="5" fill="#006d2c"/>
<rect x="98" y="229" width="15" height="5" fill="#6abf71"/>
<rect x="113" y="229" width="15" height="5" fill="#8ace88"/>
<rect x="128" y="229" width="15" height="5" fill="#82ca81"/>
<rect x="143" y="229" width="15" height="5" fill="#5ab86a"/>
<rect x="158" y="229" width="15" height="5" fill="#38a156"/>
<rect x="173" y="229" width="15" height="5" fill="#238b45"/>
<rect x="188" y="229" width="15" height="5" fill="#208842"/>
<rect x="203" y="229" width="30" height="5" fill="#19823e"/>
<rect x="233" y="229" width="15" height="5" fill="#238b45"/>
<rect x="248" y="229" width="14" height="5" fill="#41ab5d"/>
<rect x="262" y="229" width="15" height="5" fill="#8ace88"/>
<rect x="277" y="229" width="15" height="5" fill="#82ca81"/>
<rect x="292" y="229" width="15" height="5" fill="#5ab86a"/>
<rect x="307" y="229" width="15" height="5" fill="#127c38"/>
<rect x="322" y="229" width="15" height="5" fill="#005d25"/>
<rect x="337" y="229" width="15" height="5" fill="#005824"/>
<rect x="352" y="229" width="30" height="5" fill="#00692a"/>
<rect x="382" y="229" width="15" height="5" fill="#0a7634"/>
<rect x="397" y="229" width="15" height="5" fill="#2c954c"/>
<rect x="412" y="229" width="15" height="5" fill="#4bb062"/>
<rect x="427" y="229" width="15" height="5" fill="#41ab5d"/>
<rect x="442" y="229" width="15" height="5" fill="#7dc87d"/>
<rect x="457" y="229" width="15" height="5" fill="#86cc85"/>
<rect x="472" y="229" width="15" height="5" fill="#238b45"/>
<rect x="487" y="229" width="15" height="5" fill="#006529"/>
<rect x="502" y="229" width="14" height="5" fill="#1c8540"/>
<rect x="516" y="229" width="15" height="5" fill="#65bc6e"/>
<rect x="531" y="229" width="15" height="5" fill="#74c476"/>
<rect x="546" y="229" width="15" height="5" fill="#50b264"/>
<rect x="561" y="229" width="15" height="5" fill="#29914a"/>
<rect x="576" y="229" width="30" height="5" fill="#157f3b"/>
<rect x="606" y="229" width="16" height="5" fill="#208842"/>
<rect x="84" y="234" width="14" height="6" fill="#005824"/>
<rect x="98" y="234" width="15" height="6" fill="#50b264"/>
<rect x="113" y="234" width="15" height="6" fill="#6abf71"/>
<rect x="128" y="234" width="15" height="6" fill="#55b567"/>
<rect x="143" y="234" width="15" height="6" fill="#4bb062"/>
<rect x="158" y="234" width="15" height="6" fill="#2c954c"/>
<rect x="173" y="234" width="15" height="6" fill="#19823e"/>
<rect x="188" y="234" width="15" height="6" fill="#077331"/>
<rect x="203" y="234" width="15" height="6" fill="#0a7634"/>
<rect x="218" y="234" width="15" height="6" fill="#006d2c"/>
<rect x="233" y="234" width="15" height="6" fill="#19823e"/>
<rect x="248" y="234" width="14" height="6" fill="#3ba558"/>
<rect x="262" y="234" width="15" height="6" fill="#94d390"/>
<rect x="277" y="234" width="15" height="6" fill="#98d594"/>
<rect x="292" y="234" width="15" height="6" fill="#8ace88"/>
<rect x="307" y="234" width="15" height="6" fill="#2c954c"/>
<rect x="322" y="234" width="15" height="6" fill="#005d25"/>
<rect x="337" y="234" width="15" height="6" fill="#005422"/>
<rect x="352" y="234" width="15" height="6" fill="#006529"/>
<rect x="367" y="234" width="15" height="6" fill="#00692a"/>
<rect x="382" y="234" width="15" height="6" fill="#127c38"/>
<rect x="397" y="234" width="15" height="6" fill="#41ab5d"/>
<rect x="412" y="234" width="15" height="6" fill="#6abf71"/>
<rect x="427" y="234" width="15" height="6" fill="#6fc274"/>
<rect x="442" y="234" width="15" height="6" fill="#86cc85"/>
<rect x="457" y="234" width="15" height="6" fill="#8ace88"/>
<rect x="472" y="234" width="15" height="6" fill="#29914a"/>
<rect x="487" y="234" width="15" height="6" fill="#006d2c"/>
<rect x="502" y="234" width="14" height="6" fill="#1c8540"/>
<rect x="516" y="234" width="15" height="6" fill="#82ca81"/>
<rect x="531" y="234" width="15" height="6" fill="#a1d99b"/>
<rect x="546" y="234" width="15" height="6" fill="#65bc6e"/>
<rect x="561" y="234" width="15" height="6" fill="#2c954c"/>
<rect x="576" y="234" width="15" height="6" fill="#006d2c"/>
<rect x="591" y="234" width="15" height="6" fill="#077331"/>
<rect x="606" y="234" width="16" height="6" fill="#127c38"/>
<rect x="84" y="240" width="14" height="5" fill="#127c38"/>
<rect x="98" y="240" width="15" height="5" fill="#5ab86a"/>
<rect x="113" y="240" width="15" height="5" fill="#6abf71"/>
<rect x="128" y="240" width="15" height="5" fill="#65bc6e"/>
<rect x="143" y="240" width="15" height="5" fill="#5ab86a"/>
<rect x="158" y="240" width="15" height="5" fill="#29914a"/>
<rect x="173" y="240" width="15" height="5" fill="#006d2c"/>
<rect x="188" y="240" width="15" height="5" fill="#005824"/>
<rect x="203" y="240" width="15" height="5" fill="#0a7634"/>
<rect x="218" y="240" width="15" height="5" fill="#006d2c"/>
<rect x="233" y="240" width="15" height="5" fill="#157f3b"/>
<rect x="248" y="240" width="14" height="5" fill="#4bb062"/>
<rect x="262" y="240" width="15" height="5" fill="#a1d99b"/>
<rect x="277" y="240" width="15" height="5" fill="#acdea6"/>
<rect x="292" y="240" width="15" height="5" fill="#a5db9f"/>
<rect x="307" y="240" width="15" height="5" fill="#41ab5d"/>
<rect x="322" y="240" width="15" height="5" fill="#005d25"/>
<rect x="337" y="240" width="15" height="5" fill="#004c1e"/>
<rect x="352" y="240" width="15" height="5" fill="#006127"/>
<rect x="367" y="240" width="15" height="5" fill="#00692a"/>
<rect x="382" y="240" width="15" height="5" fill="#127c38"/>
<rect x="397" y="240" width="15" height="5" fill="#65bc6e"/>
<rect x="412" y="240" width="15" height="5" fill="#8ace88"/>
<rect x="427" y="240" width="15" height="5" fill="#7dc87d"/>
<rect x="442" y="240" width="15" height="5" fill="#8ace88"/>
<rect x="457" y="240" width="15" height="5" fill="#8fd18c"/>
<rect x="472" y="240" width="15" height="5" fill="#2c954c"/>
<rect x="487" y="240" width="15" height="5" fill="#03702e"/>
<rect x="502" y="240" width="14" height="5" fill="#2c954c"/>
<rect x="516" y="240" width="15" height="5" fill="#a9dca2"/>
<rect x="531" y="240" width="15" height="5" fill="#bce4b5"/>
<rect x="546" y="240" width="15" height="5" fill="#7dc87d"/>
<rect x="561" y="240" width="15" height="5" fill="#2c954c"/>
<rect x="576" y="240" width="30" height="5" fill="#006529"/>
<rect x="606" y="240" width="16" height="5" fill="#006127"/>
<rect x="84" y="245" width="14" height="5" fill="#329b51"/>
<rect x="98" y="245" width="15" height="5" fill="#60ba6c"/>
<rect x="113" y="245" width="15" height="5" fill="#6abf71"/>
<rect x="128" y="245" width="15" height="5" fill="#78c67a"/>
<rect x="143" y="245" width="15" height="5" fill="#6fc274"/>
<rect x="158" y="245" width="15" height="5" fill="#29914a"/>
<rect x="173" y="245" width="15" height="5" fill="#006d2c"/>
<rect x="188" y="245" width="15" height="5" fill="#005824"/>
<rect x="203" y="245" width="15" height="5" fill="#157f3b"/>
<rect x="218" y="245" width="15" height="5" fill="#077331"/>
<rect x="233" y="245" width="15" height="5" fill="#157f3b"/>
<rect x="248" y="245" width="14" height="5" fill="#41ab5d"/>
<rect x="262" y="245" width="15" height="5" fill="#a9dca2"/>
<rect x="277" y="245" width="15" height="5" fill="#bfe6b9"/>
<rect x="292" y="245" width="15" height="5" fill="#b4e1ae"/>
<rect x="307" y="245" width="15" height="5" fill="#50b264"/>
<rect x="322" y="245" width="15" height="5" fill="#00692a"/>
<rect x="337" y="245" width="15" height="5" fill="#005824"/>
<rect x="352" y="245" width="15" height="5" fill="#006529"/>
<rect x="367" y="245" width="15" height="5" fill="#006d2c"/>
<rect x="382" y="245" width="15" height="5" fill="#238b45"/>
<rect x="397" y="245" width="15" height="5" fill="#8fd18c"/>
<rect x="412" y="245" width="15" height="5" fill="#98d594"/>
<rect x="427" y="245" width="15" height="5" fill="#86cc85"/>
<rect x="442" y="245" width="15" height="5" fill="#8ace88"/>
<rect x="457" y="245" width="15" height="5" fill="#9cd797"/>
<rect x="472" y="245" width="15" height="5" fill="#359e53"/>
<rect x="487" y="245" width="15" height="5" fill="#077331"/>
<rect x="502" y="245" width="14" height="5" fill="#38a156"/>
<rect x="516" y="245" width="15" height="5" fill="#b0dfaa"/>
<rect x="531" y="245" width="15" height="5" fill="#bce4b5"/>
<rect x="546" y="245" width="15" height="5" fill="#74c476"/>
<rect x="561" y="245" width="15" height="5" fill="#238b45"/>
<rect x="576" y="245" width="15" height="5" fill="#006529"/>
<rect x="591" y="245" width="15" height="5" fill="#006d2c"/>
<rect x="606" y="245" width="16" height="5" fill="#005d25"/>
<rect x="84" y="250" width="14" height="5" fill="#329b51"/>
<rect x="98" y="250" width="15" height="5" fill="#74c476"/>
<rect x="113" y="250" width="15" height="5" fill="#86cc85"/>
<rect x="128" y="250" width="15" height="5" fill="#a5db9f"/>
<rect x="143" y="250" width="15" height="5" fill="#8ace88"/>
<rect x="158" y="250" width="15" height="5" fill="#2c954c"/>
<rect x="173" y="250" width="15" height="5" fill="#077331"/>
<rect x="188" y="250" width="15" height="5" fill="#157f3b"/>
<rect x="203" y="250" width="15" height="5" fill="#1c8540"/>
<rect x="218" y="250" width="15" height="5" fill="#006d2c"/>
<rect x="233" y="250" width="15" height="5" fill="#157f3b"/>
<rect x="248" y="250" width="14" height="5" fill="#6abf71"/>
<rect x="262" y="250" width="15" height="5" fill="#bce4b5"/>
<rect x="277" y="250" width="15" height="5" fill="#cdebc6"/>
<rect x="292" y="250" width="15" height="5" fill="#acdea6"/>
<rect x="307" y="250" width="15" height="5" fill="#3ea85b"/>
<rect x="322" y="250" width="15" height="5" fill="#00692a"/>
<rect x="337" y="250" width="15" height="5" fill="#006127"/>
<rect x="352" y="250" width="15" height="5" fill="#006d2c"/>
<rect x="367" y="250" width="15" height="5" fill="#00692a"/>
<rect x="382" y="250" width="15" height="5" fill="#208842"/>
<rect x="397" y="250" width="15" height="5" fill="#94d390"/>
<rect x="412" y="250" width="15" height="5" fill="#acdea6"/>
<rect x="427" y="250" width="30" height="5" fill="#98d594"/>
<rect x="457" y="250" width="15" height="5" fill="#a9dca2"/>
<rect x="472" y="250" width="15" height="5" fill="#38a156"/>
<rect x="487" y="250" width="15" height="5" fill="#0a7634"/>
<rect x="502" y="250" width="14" height="5" fill="#38a156"/>
<rect x="516" y="250" width="15" height="5" fill="#b0dfaa"/>
<rect x="531" y="250" width="15" height="5" fill="#bce4b5"/>
<rect x="546" y="250" width="15" height="5" fill="#7dc87d"/>
<rect x="561" y="250" width="15" height="5" fill="#29914a"/>
<rect x="576" y="250" width="46" height="5" fill="#0a7634"/>
<rect x="84" y="255" width="14" height="5" fill="#238b45"/>
<rect x="98" y="255" width="15" height="5" fill="#8ace88"/>
<rect x="113" y="255" width="15" height="5" fill="#a9dca2"/>
<rect x="128" y="255" width="15" height="5" fill="#a1d99b"/>
<rect x="143" y="255" width="15" height="5" fill="#7dc87d"/>
<rect x="158" y="255" width="15" height="5" fill="#238b45"/>
<rect x="173" y="255" width="15" height="5" fill="#157f3b"/>
<rect x="188" y="255" width="15" height="5" fill="#238b45"/>
<rect x="203" y="255" width="15" height="5" fill="#268e47"/>
<rect x="218" y="255" width="15" height="5" fill="#03702e"/>
<rect x="233" y="255" width="15" height="5" fill="#157f3b"/>
<rect x="248" y="255" width="14" height="5" fill="#74c476"/>
<rect x="262" y="255" width="15" height="5" fill="#bfe6b9"/>
<rect x="277" y="255" width="15" height="5" fill="#d0edca"/>
<rect x="292" y="255" width="15" height="5" fill="#a1d99b"/>
<rect x="307" y="255" width="15" height="5" fill="#329b51"/>
<rect x="322" y="255" width="15" height="5" fill="#00692a"/>
<rect x="337" y="255" width="15" height="5" fill="#006127"/>
<rect x="352" y="255" width="15" height="5" fill="#006529"/>
<rect x="367" y="255" width="15" height="5" fill="#005d25"/>
<rect x="382" y="255" width="15" height="5" fill="#1c8540"/>
<rect x="397" y="255" width="15" height="5" fill="#94d390"/>
<rect x="412" y="255" width="15" height="5" fill="#bfe6b9"/>
<rect x="427" y="255" width="30" height="5" fill="#b8e3b1"/>
<rect x="457" y="255" width="15" height="5" fill="#acdea6"/>
<rect x="472" y="255" width="15" height="5" fill="#3ea85b"/>
<rect x="487" y="255" width="15" height="5" fill="#0e7936"/>
<rect x="502" y="255" width="14" height="5" fill="#38a156"/>
<rect x="516" y="255" width="15" height="5" fill="#b0dfaa"/>
<rect x="531" y="255" width="15" height="5" fill="#c3e7bc"/>
<rect x="546" y="255" width="15" height="5" fill="#8ace88"/>
<rect x="561" y="255" width="15" height="5" fill="#2f984f"/>
<rect x="576" y="255" width="15" height="5" fill="#127c38"/>
<rect x="591" y="255" width="15" height="5" fill="#0e7936"/>
<rect x="606" y="255" width="16" height="5" fill="#127c38"/>
<rect x="84" y="260" width="14" height="5" fill="#19823e"/>
<rect x="98" y="260" width="15" height="5" fill="#6fc274"/>
<rect x="113" y="260" width="30" height="5" fill="#acdea6"/>
<rect x="143" y="260" width="15" height="5" fill="#7dc87d"/>
<rect x="158" y="260" width="15" height="5" fill="#19823e"/>
<rect x="173" y="260" width="15" height="5" fill="#0e7936"/>
<rect x="188" y="260" width="30" height="5" fill="#268e47"/>
<rect x="218" y="260" width="15" height="5" fill="#157f3b"/>
<rect x="233" y="260" width="15" height="5" fill="#19823e"/>
<rect x="248" y="260" width="14" height="5" fill="#65bc6e"/>
<rect x="262" y="260" width="15" height="5" fill="#b4e1ae"/>
<rect x="277" y="260" width="15" height="5" fill="#caeac3"/>
<rect x="292" y="260" width="15" height="5" fill="#98d594"/>
<rect x="307" y="260" width="15" height="5" fill="#238b45"/>
<rect x="322" y="260" width="15" height="5" fill="#005824"/>
<rect x="337" y="260" width="15" height="5" fill="#005020"/>
<rect x="352" y="260" width="15" height="5" fill="#006127"/>
<rect x="367" y="260" width="15" height="5" fill="#00692a"/>
<rect x="382" y="260" width="15" height="5" fill="#1c8540"/>
<rect x="397" y="260" width="15" height="5" fill="#86cc85"/>
<rect x="412" y="260" width="15" height="5" fill="#c7e9c0"/>
<rect x="427" y="260" width="30" height="5" fill="#cdebc6"/>
<rect x="457" y="260" width="15" height="5" fill="#bce4b5"/>
<rect x="472" y="260" width="15" height="5" fill="#65bc6e"/>
<rect x="487" y="260" width="15" height="5" fill="#29914a"/>
<rect x="502" y="260" width="14" height="5" fill="#3ea85b"/>
<rect x="516" y="260" width="15" height="5" fill="#b4e1ae"/>
<rect x="531" y="260" width="15" height="5" fill="#b8e3b1"/>
<rect x="546" y="260" width="15" height="5" fill="#86cc85"/>
<rect x="561" y="260" width="15" height="5" fill="#329b51"/>
<rect x="576" y="260" width="15" height="5" fill="#19823e"/>
<rect x="591" y="260" width="15" height="5" fill="#127c38"/>
<rect x="606" y="260" width="16" height="5" fill="#157f3b"/>
<rect x="84" y="265" width="14" height="5" fill="#127c38"/>
<rect x="98" y="265" width="15" height="5" fill="#5ab86a"/>
<rect x="113" y="265" width="15" height="5" fill="#a9dca2"/>
<rect x="128" y="265" width="15" height="5" fill="#b0dfaa"/>
<rect x="143" y="265" width="15" height="5" fill="#78c67a"/>
<rect x="158" y="265" width="15" height="5" fill="#238b45"/>
<rect x="173" y="265" width="15" height="5" fill="#157f3b"/>
<rect x="188" y="265" width="30" height="5" fill="#268e47"/>
<rect x="218" y="265" width="30" height="5" fill="#19823e"/>
<rect x="248" y="265" width="14" height="5" fill="#41ab5d"/>
<rect x="262" y="265" width="15" height="5" fill="#a5db9f"/>
<rect x="277" y="265" width="15" height="5" fill="#bce4b5"/>
<rect x="292" y="265" width="15" height="5" fill="#94d390"/>
<rect x="307" y="265" width="15" height="5" fill="#1c8540"/>
<rect x="322" y="265" width="15" height="5" fill="#005824"/>
<rect x="337" y="265" width="15" height="5" fill="#005020"/>
<rect x="352" y="265" width="15" height="5" fill="#127c38"/>
<rect x="367" y="265" width="15" height="5" fill="#268e47"/>
<rect x="382" y="265" width="15" height="5" fill="#3ea85b"/>
<rect x="397" y="265" width="15" height="5" fill="#8ace88"/>
<rect x="412" y="265" width="15" height="5" fill="#d0edca"/>
<rect x="427" y="265" width="30" height="5" fill="#d6efd0"/>
<rect x="457" y="265" width="15" height="5" fill="#caeac3"/>
<rect x="472" y="265" width="15" height="5" fill="#8fd18c"/>
<rect x="487" y="265" width="15" height="5" fill="#50b264"/>
<rect x="502" y="265" width="14" height="5" fill="#7dc87d"/>
<rect x="516" y="265" width="30" height="5" fill="#b4e1ae"/>
<rect x="546" y="265" width="15" height="5" fill="#7dc87d"/>
<rect x="561" y="265" width="15" height="5" fill="#2c954c"/>
<rect x="576" y="265" width="15" height="5" fill="#1c8540"/>
<rect x="591" y="265" width="15" height="5" fill="#19823e"/>
<rect x="606" y="265" width="16" height="5" fill="#1c8540"/>
<rect x="84" y="270" width="14" height="6" fill="#238b45"/>
<rect x="98" y="270" width="15" height="6" fill="#5ab86a"/>
<rect x="113" y="270" width="15" height="6" fill="#a9dca2"/>
<rect x="128" y="270" width="15" height="6" fill="#b0dfaa"/>
<rect x="143" y="270" width="15" height="6" fill="#78c67a"/>
<rect x="158" y="270" width="15" height="6" fill="#238b45"/>
<rect x="173" y="270" width="15" height="6" fill="#19823e"/>
<rect x="188" y="270" width="30" height="6" fill="#268e47"/>
<rect x="218" y="270" width="30" height="6" fill="#238b45"/>
<rect x="248" y="270" width="14" height="6" fill="#5ab86a"/>
<rect x="262" y="270" width="15" height="6" fill="#9cd797"/>
<rect x="277" y="270" width="15" height="6" fill="#acdea6"/>
<rect x="292" y="270" width="15" height="6" fill="#8fd18c"/>
<rect x="307" y="270" width="15" height="6" fill="#238b45"/>
<rect x="322" y="270" width="30" height="6" fill="#006529"/>
<rect x="352" y="270" width="15" height="6" fill="#4bb062"/>
<rect x="367" y="270" width="15" height="6" fill="#74c476"/>
<rect x="382" y="270" width="15" height="6" fill="#7dc87d"/>
<rect x="397" y="270" width="15" height="6" fill="#a9dca2"/>
<rect x="412" y="270" width="15" height="6" fill="#d9f0d3"/>
<rect x="427" y="270" width="15" height="6" fill="#dff3da"/>
<rect x="442" y="270" width="15" height="6" fill="#d6efd0"/>
<rect x="457" y="270" width="15" height="6" fill="#d3eecd"/>
<rect x="472" y="270" width="15" height="6" fill="#b8e3b1"/>
<rect x="487" y="270" width="15" height="6" fill="#98d594"/>
<rect x="502" y="270" width="14" height="6" fill="#b0dfaa"/>
<rect x="516" y="270" width="15" height="6" fill="#bfe6b9"/>
<rect x="531" y="270" width="15" height="6" fill="#b8e3b1"/>
<rect x="546" y="270" width="15" height="6" fill="#6abf71"/>
<rect x="561" y="270" width="15" height="6" fill="#2c954c"/>
<rect x="576" y="270" width="30" height="6" fill="#238b45"/>
<rect x="606" y="270" width="16" height="6" fill="#29914a"/>
<rect x="84" y="276" width="14" height="5" fill="#38a156"/>
<rect x="98" y="276" width="15" height="5" fill="#7dc87d"/>
<rect x="113" y="276" width="15" height="5" fill="#b4e1ae"/>
<rect x="128" y="276" width="15" height="5" fill="#bce4b5"/>
<rect x="143" y="276" width="15" height="5" fill="#8fd18c"/>
<rect x="158" y="276" width="15" height="5" fill="#41ab5d"/>
<rect x="173" y="276" width="15" height="5" fill="#329b51"/>
<rect x="188" y="276" width="30" height="5" fill="#2f984f"/>
<rect x="218" y="276" width="30" height="5" fill="#41ab5d"/>
<rect x="248" y="276" width="14" height="5" fill="#82ca81"/>
<rect x="262" y="276" width="15" height="5" fill="#98d594"/>
<rect x="277" y="276" width="15" height="5" fill="#9cd797"/>
<rect x="292" y="276" width="15" height="5" fill="#8fd18c"/>
<rect x="307" y="276" width="15" height="5" fill="#41ab5d"/>
<rect x="322" y="276" width="30" height="5" fill="#29914a"/>
<rect x="352" y="276" width="15" height="5" fill="#a1d99b"/>
<rect x="367" y="276" width="15" height="5" fill="#b8e3b1"/>
<rect x="382" y="276" width="15" height="5" fill="#b4e1ae"/>
<rect x="397" y="276" width="15" height="5" fill="#caeac3"/>
<rect x="412" y="276" width="15" height="5" fill="#e2f4dd"/>
<rect x="427" y="276" width="15" height="5" fill="#e5f5e0"/>
<rect x="442" y="276" width="15" height="5" fill="#dcf1d6"/>
<rect x="457" y="276" width="15" height="5" fill="#d9f0d3"/>
<rect x="472" y="276" width="15" height="5" fill="#caeac3"/>
<rect x="487" y="276" width="29" height="5" fill="#c7e9c0"/>
<rect x="516" y="276" width="30" height="5" fill="#c3e7bc"/>
<rect x="546" y="276" width="15" height="5" fill="#98d594"/>
<rect x="561" y="276" width="15" height="5" fill="#4bb062"/>
<rect x="576" y="276" width="15" height="5" fill="#329b51"/>
<rect x="591" y="276" width="31" height="5" fill="#41ab5d"/>
<rect x="84" y="281" width="14" height="5" fill="#7dc87d"/>
<rect x="98" y="281" width="15" height="5" fill="#94d390"/>
<rect x="113" y="281" width="15" height="5" fill="#bfe6b9"/>
<rect x="128" y="281" width="15" height="5" fill="#d0edca"/>
<rect x="143" y="281" width="15" height="5" fill="#bfe6b9"/>
<rect x="158" y="281" width="15" height="5" fill="#74c476"/>
<rect x="173" y="281" width="15" height="5" fill="#55b567"/>
<rect x="188" y="281" width="15" height="5" fill="#60ba6c"/>
<rect x="203" y="281" width="15" height="5" fill="#7dc87d"/>
<rect x="218" y="281" width="15" height="5" fill="#8ace88"/>
<rect x="233" y="281" width="15" height="5" fill="#8fd18c"/>
<rect x="248" y="281" width="29" height="5" fill="#a9dca2"/>
<rect x="277" y="281" width="15" height="5" fill="#a5db9f"/>
<rect x="292" y="281" width="15" height="5" fill="#a1d99b"/>
<rect x="307" y="281" width="15" height="5" fill="#8fd18c"/>
<rect x="322" y="281" width="15" height="5" fill="#7dc87d"/>
<rect x="337" y="281" width="15" height="5" fill="#78c67a"/>
<rect x="352" y="281" width="15" height="5" fill="#acdea6"/>
<rect x="367" y="281" width="15" height="5" fill="#cdebc6"/>
<rect x="382" y="281" width="15" height="5" fill="#d0edca"/>
<rect x="397" y="281" width="15" height="5" fill="#d3eecd"/>
<rect x="412" y="281" width="15" height="5" fill="#e2f4dd"/>
<rect x="427" y="281" width="15" height="5" fill="#e7f6e2"/>
<rect x="442" y="281" width="15" height="5" fill="#dff3da"/>
<rect x="457" y="281" width="30" height="5" fill="#dcf1d6"/>
<rect x="487" y="281" width="29" height="5" fill="#dff3da"/>
<rect x="516" y="281" width="15" height="5" fill="#d6efd0"/>
<rect x="531" y="281" width="15" height="5" fill="#caeac3"/>
<rect x="546" y="281" width="15" height="5" fill="#acdea6"/>
<rect x="561" y="281" width="15" height="5" fill="#8ace88"/>
<rect x="576" y="281" width="15" height="5" fill="#74c476"/>
<rect x="591" y="281" width="31" height="5" fill="#8ace88"/>
<rect x="84" y="286" width="29" height="5" fill="#b4e1ae"/>
<rect x="113" y="286" width="15" height="5" fill="#caeac3"/>
<rect x="128" y="286" width="30" height="5" fill="#dff3da"/>
<rect x="158" y="286" width="15" height="5" fill="#acdea6"/>
<rect x="173" y="286" width="15" height="5" fill="#94d390"/>
<rect x="188" y="286" width="15" height="5" fill="#a1d99b"/>
<rect x="203" y="286" width="15" height="5" fill="#b0dfaa"/>
<rect x="218" y="286" width="30" height="5" fill="#b4e1ae"/>
<rect x="248" y="286" width="14" height="5" fill="#bfe6b9"/>
<rect x="262" y="286" width="15" height="5" fill="#cdebc6"/>
<rect x="277" y="286" width="15" height="5" fill="#d3eecd"/>
<rect x="292" y="286" width="15" height="5" fill="#caeac3"/>
<rect x="307" y="286" width="15" height="5" fill="#c7e9c0"/>
<rect x="322" y="286" width="15" height="5" fill="#bce4b5"/>
<rect x="337" y="286" width="15" height="5" fill="#a9dca2"/>
<rect x="352" y="286" width="15" height="5" fill="#b4e1ae"/>
<rect x="367" y="286" width="15" height="5" fill="#d3eecd"/>
<rect x="382" y="286" width="15" height="5" fill="#d6efd0"/>
<rect x="397" y="286" width="15" height="5" fill="#d3eecd"/>
<rect x="412" y="286" width="15" height="5" fill="#e2f4dd"/>
<rect x="427" y="286" width="15" height="5" fill="#eaf7e6"/>
<rect x="442" y="286" width="15" height="5" fill="#e2f4dd"/>
<rect x="457" y="286" width="15" height="5" fill="#dff3da"/>
<rect x="472" y="286" width="15" height="5" fill="#e7f6e2"/>
<rect x="487" y="286" width="15" height="5" fill="#e5f5e0"/>
<rect x="502" y="286" width="29" height="5" fill="#dff3da"/>
<rect x="531" y="286" width="15" height="5" fill="#d9f0d3"/>
<rect x="546" y="286" width="15" height="5" fill="#d0edca"/>
<rect x="561" y="286" width="15" height="5" fill="#bfe6b9"/>
<rect x="576" y="286" width="15" height="5" fill="#b4e1ae"/>
<rect x="591" y="286" width="15" height="5" fill="#bce4b5"/>
<rect x="606" y="286" width="16" height="5" fill="#bfe6b9"/>
<rect x="84" y="291" width="14" height="5" fill="#dff3da"/>
<rect x="98" y="291" width="15" height="5" fill="#d9f0d3"/>
<rect x="113" y="291" width="15" height="5" fill="#dcf1d6"/>
<rect x="128" y="291" width="30" height="5" fill="#e9f6e4"/>
<rect x="158" y="291" width="15" height="5" fill="#c7e9c0"/>
<rect x="173" y="291" width="15" height="5" fill="#bce4b5"/>
<rect x="188" y="291" width="15" height="5" fill="#c7e9c0"/>
<rect x="203" y="291" width="15" height="5" fill="#d6efd0"/>
<rect x="218" y="291" width="15" height="5" fill="#d3eecd"/>
<rect x="233" y="291" width="15" height="5" fill="#cdebc6"/>
<rect x="248" y="291" width="14" height="5" fill="#d6efd0"/>
<rect x="262" y="291" width="15" height="5" fill="#e5f5e0"/>
<rect x="277" y="291" width="30" height="5" fill="#eaf7e6"/>
<rect x="307" y="291" width="15" height="5" fill="#e9f6e4"/>
<rect x="322" y="291" width="15" height="5" fill="#d9f0d3"/>
<rect x="337" y="291" width="15" height="5" fill="#c7e9c0"/>
<rect x="352" y="291" width="15" height="5" fill="#c3e7bc"/>
<rect x="367" y="291" width="15" height="5" fill="#d9f0d3"/>
<rect x="382" y="291" width="15" height="5" fill="#dff3da"/>
<rect x="397" y="291" width="15" height="5" fill="#d9f0d3"/>
<rect x="412" y="291" width="15" height="5" fill="#e2f4dd"/>
<rect x="427" y="291" width="15" height="5" fill="#eaf7e6"/>
<rect x="442" y="291" width="15" height="5" fill="#e5f5e0"/>
<rect x="457" y="291" width="15" height="5" fill="#e2f4dd"/>
<rect x="472" y="291" width="30" height="5" fill="#eaf7e6"/>
<rect x="502" y="291" width="14" height="5" fill="#e5f5e0"/>
<rect x="516" y="291" width="15" height="5" fill="#e2f4dd"/>
<rect x="531" y="291" width="15" height="5" fill="#dcf1d6"/>
<rect x="546" y="291" width="15" height="5" fill="#d9f0d3"/>
<rect x="561" y="291" width="15" height="5" fill="#d3eecd"/>
<rect x="576" y="291" width="46" height="5" fill="#d0edca"/>
<rect x="84" y="296" width="14" height="5" fill="#caeac3"/>
<rect x="98" y="296" width="15" height="5" fill="#e9f6e4"/>
<rect x="113" y="296" width="15" height="5" fill="#ecf8e8"/>
<rect x="128" y="296" width="15" height="5" fill="#eaf7e6"/>
<rect x="143" y="296" width="15" height="5" fill="#e7f6e2"/>
<rect x="158" y="296" width="15" height="5" fill="#d9f0d3"/>
<rect x="173" y="296" width="15" height="5" fill="#d3eecd"/>
<rect x="188" y="296" width="15" height="5" fill="#d0edca"/>
<rect x="203" y="296" width="15" height="5" fill="#d3eecd"/>
<rect x="218" y="296" width="30" height="5" fill="#d0edca"/>
<rect x="248" y="296" width="14" height="5" fill="#d9f0d3"/>
<rect x="262" y="296" width="15" height="5" fill="#d3eecd"/>
<rect x="277" y="296" width="15" height="5" fill="#e7f6e2"/>
<rect x="292" y="296" width="30" height="5" fill="#e5f5e0"/>
<rect x="322" y="296" width="15" height="5" fill="#cdebc6"/>
<rect x="337" y="296" width="15" height="5" fill="#bce4b5"/>
<rect x="352" y="296" width="15" height="5" fill="#caeac3"/>
<rect x="367" y="296" width="30" height="5" fill="#d9f0d3"/>
<rect x="397" y="296" width="15" height="5" fill="#d3eecd"/>
<rect x="412" y="296" width="15" height="5" fill="#e2f4dd"/>
<rect x="427" y="296" width="15" height="5" fill="#e9f6e4"/>
<rect x="442" y="296" width="15" height="5" fill="#e5f5e0"/>
<rect x="457" y="296" width="15" height="5" fill="#dcf1d6"/>
<rect x="472" y="296" width="15" height="5" fill="#e2f4dd"/>
<rect x="487" y="296" width="29" height="5" fill="#e9f6e4"/>
<rect x="516" y="296" width="15" height="5" fill="#e5f5e0"/>
<rect x="531" y="296" width="30" height="5" fill="#d9f0d3"/>
<rect x="561" y="296" width="15" height="5" fill="#cdebc6"/>
<rect x="576" y="296" width="15" height="5" fill="#c7e9c0"/>
<rect x="591" y="296" width="15" height="5" fill="#bfe6b9"/>
<rect x="606" y="296" width="16" height="5" fill="#cdebc6"/>
<rect x="84" y="301" width="14" height="5" fill="#caeac3"/>
<rect x="98" y="301" width="15" height="5" fill="#e5f5e0"/>
<rect x="113" y="301" width="30" height="5" fill="#eef8ea"/>
<rect x="143" y="301" width="15" height="5" fill="#e9f6e4"/>
<rect x="158" y="301" width="15" height="5" fill="#e5f5e0"/>
<rect x="173" y="301" width="15" height="5" fill="#e2f4dd"/>
<rect x="188" y="301" width="15" height="5" fill="#dcf1d6"/>
<rect x="203" y="301" width="15" height="5" fill="#d9f0d3"/>
<rect x="218" y="301" width="15" height="5" fill="#d6efd0"/>
<rect x="233" y="301" width="15" height="5" fill="#caeac3"/>
<rect x="248" y="301" width="14" height="5" fill="#cdebc6"/>
<rect x="262" y="301" width="15" height="5" fill="#caeac3"/>
<rect x="277" y="301" width="15" height="5" fill="#dff3da"/>
<rect x="292" y="301" width="15" height="5" fill="#e2f4dd"/>
<rect x="307" y="301" width="15" height="5" fill="#e7f6e2"/>
<rect x="322" y="301" width="15" height="5" fill="#d3eecd"/>
<rect x="337" y="301" width="15" height="5" fill="#caeac3"/>
<rect x="352" y="301" width="15" height="5" fill="#d0edca"/>
<rect x="367" y="301" width="15" height="5" fill="#e7f6e2"/>
<rect x="382" y="301" width="15" height="5" fill="#dcf1d6"/>
<rect x="397" y="301" width="15" height="5" fill="#d9f0d3"/>
<rect x="412" y="301" width="15" height="5" fill="#dff3da"/>
<rect x="427" y="301" width="15" height="5" fill="#e9f6e4"/>
<rect x="442" y="301" width="30" height="5" fill="#e7f6e2"/>
<rect x="472" y="301" width="44" height="5" fill="#eaf7e6"/>
<rect x="516" y="301" width="30" height="5" fill="#e9f6e4"/>
<rect x="546" y="301" width="15" height="5" fill="#e2f4dd"/>
<rect x="561" y="301" width="15" height="5" fill="#d0edca"/>
<rect x="576" y="301" width="15" height="5" fill="#cdebc6"/>
<rect x="591" y="301" width="31" height="5" fill="#c7e9c0"/>
<rect x="84" y="306" width="14" height="5" fill="#caeac3"/>
<rect x="98" y="306" width="15" height="5" fill="#e5f5e0"/>
<rect x="113" y="306" width="30" height="5" fill="#eef8ea"/>
<rect x="143" y="306" width="30" height="5" fill="#e9f6e4"/>
<rect x="173" y="306" width="15" height="5" fill="#e7f6e2"/>
<rect x="188" y="306" width="15" height="5" fill="#e2f4dd"/>
<rect x="203" y="306" width="30" height="5" fill="#dcf1d6"/>
<rect x="233" y="306" width="15" height="5" fill="#caeac3"/>
<rect x="248" y="306" width="14" height="5" fill="#c7e9c0"/>
<rect x="262" y="306" width="15" height="5" fill="#caeac3"/>
<rect x="277" y="306" width="15" height="5" fill="#d9f0d3"/>
<rect x="292" y="306" width="15" height="5" fill="#dcf1d6"/>
<rect x="307" y="306" width="15" height="5" fill="#dff3da"/>
<rect x="322" y="306" width="15" height="5" fill="#caeac3"/>
<rect x="337" y="306" width="15" height="5" fill="#c7e9c0"/>
<rect x="352" y="306" width="15" height="5" fill="#cdebc6"/>
<rect x="367" y="306" width="15" height="5" fill="#dff3da"/>
<rect x="382" y="306" width="15" height="5" fill="#dcf1d6"/>
<rect x="397" y="306" width="15" height="5" fill="#e5f5e0"/>
<rect x="412" y="306" width="15" height="5" fill="#e7f6e2"/>
<rect x="427" y="306" width="15" height="5" fill="#e9f6e4"/>
<rect x="442" y="306" width="60" height="5" fill="#e5f5e0"/>
<rect x="502" y="306" width="14" height="5" fill="#dff3da"/>
<rect x="516" y="306" width="15" height="5" fill="#e5f5e0"/>
<rect x="531" y="306" width="15" height="5" fill="#e7f6e2"/>
<rect x="546" y="306" width="15" height="5" fill="#e5f5e0"/>
<rect x="561" y="306" width="30" height="5" fill="#d9f0d3"/>
<rect x="591" y="306" width="15" height="5" fill="#d3eecd"/>
<rect x="606" y="306" width="16" height="5" fill="#caeac3"/>
<rect x="84" y="311" width="14" height="6" fill="#dcf1d6"/>
<rect x="98" y="311" width="15" height="6" fill="#e5f5e0"/>
<rect x="113" y="311" width="30" height="6" fill="#eef8ea"/>
<rect x="143" y="311" width="15" height="6" fill="#e9f6e4"/>
<rect x="158" y="311" width="15" height="6" fill="#eaf7e6"/>
<rect x="173" y="311" width="15" height="6" fill="#e7f6e2"/>
<rect x="188" y="311" width="15" height="6" fill="#e2f4dd"/>
<rect x="203" y="311" width="30" height="6" fill="#dff3da"/>
<rect x="233" y="311" width="15" height="6" fill="#caeac3"/>
<rect x="248" y="311" width="14" height="6" fill="#c3e7bc"/>
<rect x="262" y="311" width="15" height="6" fill="#caeac3"/>
<rect x="277" y="311" width="15" height="6" fill="#d9f0d3"/>
<rect x="292" y="311" width="30" height="6" fill="#e2f4dd"/>
<rect x="322" y="311" width="15" height="6" fill="#caeac3"/>
<rect x="337" y="311" width="15" height="6" fill="#c3e7bc"/>
<rect x="352" y="311" width="15" height="6" fill="#cdebc6"/>
<rect x="367" y="311" width="30" height="6" fill="#d9f0d3"/>
<rect x="397" y="311" width="15" height="6" fill="#e2f4dd"/>
<rect x="412" y="311" width="15" height="6" fill="#e7f6e2"/>
<rect x="427" y="311" width="15" height="6" fill="#e9f6e4"/>
<rect x="442" y="311" width="15" height="6" fill="#e5f5e0"/>
<rect x="457" y="311" width="15" height="6" fill="#e7f6e2"/>
<rect x="472" y="311" width="15" height="6" fill="#e2f4dd"/>
<rect x="487" y="311" width="15" height="6" fill="#d9f0d3"/>
<rect x="502" y="311" width="29" height="6" fill="#caeac3"/>
<rect x="531" y="311" width="45" height="6" fill="#d6efd0"/>
<rect x="576" y="311" width="15" height="6" fill="#d9f0d3"/>
<rect x="591" y="311" width="15" height="6" fill="#e5f5e0"/>
<rect x="606" y="311" width="16" height="6" fill="#caeac3"/>
<rect x="84" y="317" width="14" height="5" fill="#d0edca"/>
<rect x="98" y="317" width="15" height="5" fill="#dff3da"/>
<rect x="113" y="317" width="30" height="5" fill="#e9f6e4"/>
<rect x="143" y="317" width="15" height="5" fill="#e7f6e2"/>
<rect x="158" y="317" width="15" height="5" fill="#e9f6e4"/>
<rect x="173" y="317" width="15" height="5" fill="#e7f6e2"/>
<rect x="188" y="317" width="15" height="5" fill="#d9f0d3"/>
<rect x="203" y="317" width="15" height="5" fill="#d6efd0"/>
<rect x="218" y="317" width="15" height="5" fill="#dff3da"/>
<rect x="233" y="317" width="15" height="5" fill="#dcf1d6"/>
<rect x="248" y="317" width="14" height="5" fill="#d0edca"/>
<rect x="262" y="317" width="15" height="5" fill="#d3eecd"/>
<rect x="277" y="317" width="15" height="5" fill="#d6efd0"/>
<rect x="292" y="317" width="30" height="5" fill="#dcf1d6"/>
<rect x="322" y="317" width="15" height="5" fill="#caeac3"/>
<rect x="337" y="317" width="15" height="5" fill="#bce4b5"/>
<rect x="352" y="317" width="15" height="5" fill="#bfe6b9"/>
<rect x="367" y="317" width="15" height="5" fill="#c3e7bc"/>
<rect x="382" y="317" width="15" height="5" fill="#cdebc6"/>
<rect x="397" y="317" width="15" height="5" fill="#d6efd0"/>
<rect x="412" y="317" width="15" height="5" fill="#e5f5e0"/>
<rect x="427" y="317" width="15" height="5" fill="#e7f6e2"/>
<rect x="442" y="317" width="15" height="5" fill="#e2f4dd"/>
<rect x="457" y="317" width="15" height="5" fill="#dcf1d6"/>
<rect x="472" y="317" width="15" height="5" fill="#d9f0d3"/>
<rect x="487" y="317" width="15" height="5" fill="#d6efd0"/>
<rect x="502" y="317" width="14" height="5" fill="#caeac3"/>
<rect x="516" y="317" width="15" height="5" fill="#c7e9c0"/>
<rect x="531" y="317" width="15" height="5" fill="#caeac3"/>
<rect x="546" y="317" width="15" height="5" fill="#d0edca"/>
<rect x="561" y="317" width="15" height="5" fill="#d3eecd"/>
<rect x="576" y="317" width="15" height="5" fill="#d6efd0"/>
<rect x="591" y="317" width="15" height="5" fill="#d0edca"/>
<rect x="606" y="317" width="16" height="5" fill="#cdebc6"/>
<rect x="84" y="322" width="14" height="5" fill="#caeac3"/>
<rect x="98" y="322" width="15" height="5" fill="#d6efd0"/>
<rect x="113" y="322" width="15" height="5" fill="#dff3da"/>
<rect x="128" y="322" width="15" height="5" fill="#e2f4dd"/>
<rect x="143" y="322" width="15" height="5" fill="#e7f6e2"/>
<rect x="158" y="322" width="15" height="5" fill="#e9f6e4"/>
<rect x="173" y="322" width="15" height="5" fill="#e7f6e2"/>
<rect x="188" y="322" width="15" height="5" fill="#d9f0d3"/>
<rect x="203" y="322" width="15" height="5" fill="#d6efd0"/>
<rect x="218" y="322" width="15" height="5" fill="#d9f0d3"/>
<rect x="233" y="322" width="15" height="5" fill="#d6efd0"/>
<rect x="248" y="322" width="14" height="5" fill="#caeac3"/>
<rect x="262" y="322" width="30" height="5" fill="#cdebc6"/>
<rect x="292" y="322" width="15" height="5" fill="#dcf1d6"/>
<rect x="307" y="322" width="15" height="5" fill="#e7f6e2"/>
<rect x="322" y="322" width="15" height="5" fill="#d9f0d3"/>
<rect x="337" y="322" width="15" height="5" fill="#caeac3"/>
<rect x="352" y="322" width="30" height="5" fill="#c7e9c0"/>
<rect x="382" y="322" width="15" height="5" fill="#d0edca"/>
<rect x="397" y="322" width="15" height="5" fill="#d6efd0"/>
<rect x="412" y="322" width="15" height="5" fill="#e5f5e0"/>
<rect x="427" y="322" width="15" height="5" fill="#dcf1d6"/>
<rect x="442" y="322" width="15" height="5" fill="#d9f0d3"/>
<rect x="457" y="322" width="15" height="5" fill="#d3eecd"/>
<rect x="472" y="322" width="15" height="5" fill="#dcf1d6"/>
<rect x="487" y="322" width="15" height="5" fill="#d9f0d3"/>
<rect x="502" y="322" width="14" height="5" fill="#d6efd0"/>
<rect x="516" y="322" width="30" height="5" fill="#d3eecd"/>
<rect x="546" y="322" width="15" height="5" fill="#d6efd0"/>
<rect x="561" y="322" width="15" height="5" fill="#d9f0d3"/>
<rect x="576" y="322" width="15" height="5" fill="#d6efd0"/>
<rect x="591" y="322" width="15" height="5" fill="#bfe6b9"/>
<rect x="606" y="322" width="16" height="5" fill="#b4e1ae"/>
<rect x="84" y="327" width="29" height="5" fill="#d0edca"/>
<rect x="113" y="327" width="15" height="5" fill="#d3eecd"/>
<rect x="128" y="327" width="15" height="5" fill="#dff3da"/>
<rect x="143" y="327" width="15" height="5" fill="#e7f6e2"/>
<rect x="158" y="327" width="15" height="5" fill="#e9f6e4"/>
<rect x="173" y="327" width="15" height="5" fill="#e7f6e2"/>
<rect x="188" y="327" width="15" height="5" fill="#d6efd0"/>
<rect x="203" y="327" width="30" height="5" fill="#d0edca"/>
<rect x="233" y="327" width="15" height="5" fill="#d3eecd"/>
<rect x="248" y="327" width="29" height="5" fill="#d0edca"/>
<rect x="277" y="327" width="15" height="5" fill="#caeac3"/>
<rect x="292" y="327" width="15" height="5" fill="#d0edca"/>
<rect x="307" y="327" width="15" height="5" fill="#d9f0d3"/>
<rect x="322" y="327" width="15" height="5" fill="#d6efd0"/>
<rect x="337" y="327" width="30" height="5" fill="#caeac3"/>
<rect x="367" y="327" width="15" height="5" fill="#cdebc6"/>
<rect x="382" y="327" width="15" height="5" fill="#d6efd0"/>
<rect x="397" y="327" width="15" height="5" fill="#dcf1d6"/>
<rect x="412" y="327" width="15" height="5" fill="#e5f5e0"/>
<rect x="427" y="327" width="15" height="5" fill="#dcf1d6"/>
<rect x="442" y="327" width="15" height="5" fill="#d6efd0"/>
<rect x="457" y="327" width="30" height="5" fill="#caeac3"/>
<rect x="487" y="327" width="29" height="5" fill="#d6efd0"/>
<rect x="516" y="327" width="15" height="5" fill="#cdebc6"/>
<rect x="531" y="327" width="15" height="5" fill="#d3eecd"/>
<rect x="546" y="327" width="30" height="5" fill="#e7f6e2"/>
<rect x="576" y="327" width="15" height="5" fill="#d6efd0"/>
<rect x="591" y="327" width="15" height="5" fill="#bce4b5"/>
<rect x="606" y="327" width="16" height="5" fill="#bfe6b9"/>
<rect x="84" y="332" width="14" height="5" fill="#d9f0d3"/>
<rect x="98" y="332" width="15" height="5" fill="#e2f4dd"/>
<rect x="113" y="332" width="30" height="5" fill="#e5f5e0"/>
<rect x="143" y="332" width="30" height="5" fill="#e7f6e2"/>
<rect x="173" y="332" width="15" height="5" fill="#e5f5e0"/>
<rect x="188" y="332" width="30" height="5" fill="#d6efd0"/>
<rect x="218" y="332" width="15" height="5" fill="#d9f0d3"/>
<rect x="233" y="332" width="15" height="5" fill="#d6efd0"/>
<rect x="248" y="332" width="14" height="5" fill="#d0edca"/>
<rect x="262" y="332" width="15" height="5" fill="#d6efd0"/>
<rect x="277" y="332" width="15" height="5" fill="#d9f0d3"/>
<rect x="292" y="332" width="30" height="5" fill="#dcf1d6"/>
<rect x="322" y="332" width="15" height="5" fill="#d0edca"/>
<rect x="337" y="332" width="15" height="5" fill="#bfe6b9"/>
<rect x="352" y="332" width="15" height="5" fill="#c3e7bc"/>
<rect x="367" y="332" width="15" height="5" fill="#d6efd0"/>
<rect x="382" y="332" width="15" height="5" fill="#d9f0d3"/>
<rect x="397" y="332" width="15" height="5" fill="#e2f4dd"/>
<rect x="412" y="332" width="30" height="5" fill="#e5f5e0"/>
<rect x="442" y="332" width="15" height="5" fill="#d9f0d3"/>
<rect x="457" y="332" width="15" height="5" fill="#cdebc6"/>
<rect x="472" y="332" width="15" height="5" fill="#c7e9c0"/>
<rect x="487" y="332" width="15" height="5" fill="#d3eecd"/>
<rect x="502" y="332" width="14" height="5" fill="#d9f0d3"/>
<rect x="516" y="332" width="15" height="5" fill="#d6efd0"/>
<rect x="531" y="332" width="15" height="5" fill="#d3eecd"/>
<rect x="546" y="332" width="30" height="5" fill="#e2f4dd"/>
<rect x="576" y="332" width="15" height="5" fill="#d9f0d3"/>
<rect x="591" y="332" width="15" height="5" fill="#cdebc6"/>
<rect x="606" y="332" width="16" height="5" fill="#bce4b5"/>
<rect x="84" y="337" width="14" height="5" fill="#e2f4dd"/>
<rect x="98" y="337" width="30" height="5" fill="#e9f6e4"/>
<rect x="128" y="337" width="15" height="5" fill="#e7f6e2"/>
<rect x="143" y="337" width="15" height="5" fill="#e5f5e0"/>
<rect x="158" y="337" width="15" height="5" fill="#e2f4dd"/>
<rect x="173" y="337" width="30" height="5" fill="#dcf1d6"/>
<rect x="203" y="337" width="15" height="5" fill="#d9f0d3"/>
<rect x="218" y="337" width="15" height="5" fill="#e2f4dd"/>
<rect x="233" y="337" width="15" height="5" fill="#e7f6e2"/>
<rect x="248" y="337" width="14" height="5" fill="#e2f4dd"/>
<rect x="262" y="337" width="15" height="5" fill="#d9f0d3"/>
<rect x="277" y="337" width="15" height="5" fill="#dcf1d6"/>
<rect x="292" y="337" width="15" height="5" fill="#e5f5e0"/>
<rect x="307" y="337" width="15" height="5" fill="#dff3da"/>
<rect x="322" y="337" width="15" height="5" fill="#cdebc6"/>
<rect x="337" y="337" width="15" height="5" fill="#c3e7bc"/>
<rect x="352" y="337" width="15" height="5" fill="#cdebc6"/>
<rect x="367" y="337" width="15" height="5" fill="#d0edca"/>
<rect x="382" y="337" width="30" height="5" fill="#caeac3"/>
<rect x="412" y="337" width="15" height="5" fill="#d9f0d3"/>
<rect x="427" y="337" width="15" height="5" fill="#e7f6e2"/>
<rect x="442" y="337" width="15" height="5" fill="#d6efd0"/>
<rect x="457" y="337" width="15" height="5" fill="#cdebc6"/>
<rect x="472" y="337" width="15" height="5" fill="#c7e9c0"/>
<rect x="487" y="337" width="15" height="5" fill="#d6efd0"/>
<rect x="502" y="337" width="29" height="5" fill="#d9f0d3"/>
<rect x="531" y="337" width="15" height="5" fill="#d0edca"/>
<rect x="546" y="337" width="45" height="5" fill="#dcf1d6"/>
<rect x="591" y="337" width="15" height="5" fill="#d9f0d3"/>
<rect x="606" y="337" width="16" height="5" fill="#dcf1d6"/>
<rect x="84" y="342" width="14" height="5" fill="#e5f5e0"/>
<rect x="98" y="342" width="15" height="5" fill="#eef8ea"/>
<rect x="113" y="342" width="15" height="5" fill="#ecf8e8"/>
<rect x="128" y="342" width="15" height="5" fill="#e9f6e4"/>
<rect x="143" y="342" width="15" height="5" fill="#e2f4dd"/>
<rect x="158" y="342" width="15" height="5" fill="#d9f0d3"/>
<rect x="173" y="342" width="15" height="5" fill="#d6efd0"/>
<rect x="188" y="342" width="15" height="5" fill="#dcf1d6"/>
<rect x="203" y="342" width="15" height="5" fill="#e2f4dd"/>
<rect x="218" y="342" width="15" height="5" fill="#e5f5e0"/>
<rect x="233" y="342" width="15" height="5" fill="#e9f6e4"/>
<rect x="248" y="342" width="14" height="5" fill="#dff3da"/>
<rect x="262" y="342" width="15" height="5" fill="#d6efd0"/>
<rect x="277" y="342" width="15" height="5" fill="#d3eecd"/>
<rect x="292" y="342" width="15" height="5" fill="#e5f5e0"/>
<rect x="307" y="342" width="15" height="5" fill="#e7f6e2"/>
<rect x="322" y="342" width="15" height="5" fill="#d6efd0"/>
<rect x="337" y="342" width="15" height="5" fill="#c7e9c0"/>
<rect x="352" y="342" width="15" height="5" fill="#cdebc6"/>
<rect x="367" y="342" width="15" height="5" fill="#caeac3"/>
<rect x="382" y="342" width="15" height="5" fill="#bfe6b9"/>
<rect x="397" y="342" width="15" height="5" fill="#b8e3b1"/>
<rect x="412" y="342" width="15" height="5" fill="#caeac3"/>
<rect x="427" y="342" width="15" height="5" fill="#d3eecd"/>
<rect x="442" y="342" width="15" height="5" fill="#d0edca"/>
<rect x="457" y="342" width="30" height="5" fill="#caeac3"/>
<rect x="487" y="342" width="29" height="5" fill="#d3eecd"/>
<rect x="516" y="342" width="15" height="5" fill="#dcf1d6"/>
<rect x="531" y="342" width="15" height="5" fill="#d3eecd"/>
<rect x="546" y="342" width="15" height="5" fill="#d9f0d3"/>
<rect x="561" y="342" width="15" height="5" fill="#d3eecd"/>
<rect x="576" y="342" width="15" height="5" fill="#dcf1d6"/>
<rect x="591" y="342" width="15" height="5" fill="#d9f0d3"/>
<rect x="606" y="342" width="16" height="5" fill="#dff3da"/>
<rect x="84" y="347" width="59" height="6" fill="#eef8ea"/>
<rect x="143" y="347" width="15" height="6" fill="#e9f6e4"/>
<rect x="158" y="347" width="15" height="6" fill="#dff3da"/>
<rect x="173" y="347" width="15" height="6" fill="#d9f0d3"/>
<rect x="188" y="347" width="30" height="6" fill="#dcf1d6"/>
<rect x="218" y="347" width="15" height="6" fill="#dff3da"/>
<rect x="233" y="347" width="15" height="6" fill="#e5f5e0"/>
<rect x="248" y="347" width="14" height="6" fill="#e2f4dd"/>
<rect x="262" y="347" width="30" height="6" fill="#d9f0d3"/>
<rect x="292" y="347" width="15" height="6" fill="#e7f6e2"/>
<rect x="307" y="347" width="15" height="6" fill="#e9f6e4"/>
<rect x="322" y="347" width="15" height="6" fill="#dcf1d6"/>
<rect x="337" y="347" width="15" height="6" fill="#caeac3"/>
<rect x="352" y="347" width="15" height="6" fill="#cdebc6"/>
<rect x="367" y="347" width="15" height="6" fill="#c3e7bc"/>
<rect x="382" y="347" width="15" height="6" fill="#bfe6b9"/>
<rect x="397" y="347" width="15" height="6" fill="#c3e7bc"/>
<rect x="412" y="347" width="15" height="6" fill="#caeac3"/>
<rect x="427" y="347" width="15" height="6" fill="#c7e9c0"/>
<rect x="442" y="347" width="30" height="6" fill="#caeac3"/>
<rect x="472" y="347" width="15" height="6" fill="#d0edca"/>
<rect x="487" y="347" width="44" height="6" fill="#d6efd0"/>
<rect x="531" y="347" width="15" height="6" fill="#cdebc6"/>
<rect x="546" y="347" width="15" height="6" fill="#d6efd0"/>
<rect x="561" y="347" width="15" height="6" fill="#d9f0d3"/>
<rect x="576" y="347" width="15" height="6" fill="#dcf1d6"/>
<rect x="591" y="347" width="15" height="6" fill="#d9f0d3"/>
<rect x="606" y="347" width="16" height="6" fill="#e7f6e2"/>
<rect x="84" y="353" width="74" height="5" fill="#eef8ea"/>
<rect x="158" y="353" width="15" height="5" fill="#e7f6e2"/>
<rect x="173" y="353" width="15" height="5" fill="#d9f0d3"/>
<rect x="188" y="353" width="15" height="5" fill="#dff3da"/>
<rect x="203" y="353" width="30" height="5" fill="#e2f4dd"/>
<rect x="233" y="353" width="29" height="5" fill="#dff3da"/>
<rect x="262" y="353" width="15" height="5" fill="#e7f6e2"/>
<rect x="277" y="353" width="15" height="5" fill="#dcf1d6"/>
<rect x="292" y="353" width="15" height="5" fill="#dff3da"/>
<rect x="307" y="353" width="15" height="5" fill="#e5f5e0"/>
<rect x="322" y="353" width="15" height="5" fill="#dcf1d6"/>
<rect x="337" y="353" width="15" height="5" fill="#c7e9c0"/>
<rect x="352" y="353" width="15" height="5" fill="#caeac3"/>
<rect x="367" y="353" width="15" height="5" fill="#c7e9c0"/>
<rect x="382" y="353" width="15" height="5" fill="#bfe6b9"/>
<rect x="397" y="353" width="45" height="5" fill="#caeac3"/>
<rect x="442" y="353" width="15" height="5" fill="#cdebc6"/>
<rect x="457" y="353" width="15" height="5" fill="#d6efd0"/>
<rect x="472" y="353" width="15" height="5" fill="#e2f4dd"/>
<rect x="487" y="353" width="15" height="5" fill="#d6efd0"/>
<rect x="502" y="353" width="44" height="5" fill="#d9f0d3"/>
<rect x="546" y="353" width="15" height="5" fill="#dcf1d6"/>
<rect x="561" y="353" width="15" height="5" fill="#dff3da"/>
<rect x="576" y="353" width="15" height="5" fill="#dcf1d6"/>
<rect x="591" y="353" width="15" height="5" fill="#d9f0d3"/>
<rect x="606" y="353" width="16" height="5" fill="#dcf1d6"/>
<rect x="84" y="358" width="14" height="5" fill="#ecf8e8"/>
<rect x="98" y="358" width="15" height="5" fill="#e9f6e4"/>
<rect x="113" y="358" width="15" height="5" fill="#eaf7e6"/>
<rect x="128" y="358" width="30" height="5" fill="#eef8ea"/>
<rect x="158" y="358" width="15" height="5" fill="#e9f6e4"/>
<rect x="173" y="358" width="15" height="5" fill="#d9f0d3"/>
<rect x="188" y="358" width="15" height="5" fill="#dff3da"/>
<rect x="203" y="358" width="30" height="5" fill="#e7f6e2"/>
<rect x="233" y="358" width="15" height="5" fill="#e5f5e0"/>
<rect x="248" y="358" width="14" height="5" fill="#e2f4dd"/>
<rect x="262" y="358" width="15" height="5" fill="#e9f6e4"/>
<rect x="277" y="358" width="30" height="5" fill="#dff3da"/>
<rect x="307" y="358" width="15" height="5" fill="#e2f4dd"/>
<rect x="322" y="358" width="15" height="5" fill="#dcf1d6"/>
<rect x="337" y="358" width="15" height="5" fill="#c7e9c0"/>
<rect x="352" y="358" width="15" height="5" fill="#d0edca"/>
<rect x="367" y="358" width="15" height="5" fill="#caeac3"/>
<rect x="382" y="358" width="15" height="5" fill="#bfe6b9"/>
<rect x="397" y="358" width="15" height="5" fill="#c3e7bc"/>
<rect x="412" y="358" width="15" height="5" fill="#caeac3"/>
<rect x="427" y="358" width="30" height="5" fill="#d3eecd"/>
<rect x="457" y="358" width="30" height="5" fill="#e7f6e2"/>
<rect x="487" y="358" width="44" height="5" fill="#d9f0d3"/>
<rect x="531" y="358" width="15" height="5" fill="#dff3da"/>
<rect x="546" y="358" width="15" height="5" fill="#e7f6e2"/>
<rect x="561" y="358" width="15" height="5" fill="#eaf7e6"/>
<rect x="576" y="358" width="15" height="5" fill="#e2f4dd"/>
<rect x="591" y="358" width="15" height="5" fill="#d9f0d3"/>
<rect x="606" y="358" width="16" height="5" fill="#dcf1d6"/>
<rect x="84" y="363" width="29" height="5" fill="#e7f6e2"/>
<rect x="113" y="363" width="30" height="5" fill="#eaf7e6"/>
<rect x="143" y="363" width="15" height="5" fill="#e7f6e2"/>
<rect x="158" y="363" width="45" height="5" fill="#dcf1d6"/>
<rect x="203" y="363" width="15" height="5" fill="#e2f4dd"/>
<rect x="218" y="363" width="74" height="5" fill="#e5f5e0"/>
<rect x="292" y="363" width="15" height="5" fill="#e2f4dd"/>
<rect x="307" y="363" width="15" height="5" fill="#dcf1d6"/>
<rect x="322" y="363" width="15" height="5" fill="#d6efd0"/>
<rect x="337" y="363" width="15" height="5" fill="#caeac3"/>
<rect x="352" y="363" width="15" height="5" fill="#cdebc6"/>
<rect x="367" y="363" width="15" height="5" fill="#c7e9c0"/>
<rect x="382" y="363" width="15" height="5" fill="#bfe6b9"/>
<rect x="397" y="363" width="15" height="5" fill="#bce4b5"/>
<rect x="412" y="363" width="15" height="5" fill="#c3e7bc"/>
<rect x="427" y="363" width="30" height="5" fill="#d0edca"/>
<rect x="457" y="363" width="15" height="5" fill="#d3eecd"/>
<rect x="472" y="363" width="15" height="5" fill="#d9f0d3"/>
<rect x="487" y="363" width="15" height="5" fill="#e2f4dd"/>
<rect x="502" y="363" width="14" height="5" fill="#dcf1d6"/>
<rect x="516" y="363" width="15" height="5" fill="#e2f4dd"/>
<rect x="531" y="363" width="15" height="5" fill="#e7f6e2"/>
<rect x="546" y="363" width="15" height="5" fill="#eaf7e6"/>
<rect x="561" y="363" width="15" height="5" fill="#ecf8e8"/>
<rect x="576" y="363" width="15" height="5" fill="#e9f6e4"/>
<rect x="591" y="363" width="15" height="5" fill="#dff3da"/>
<rect x="606" y="363" width="16" height="5" fill="#e2f4dd"/>
<rect x="84" y="368" width="29" height="5" fill="#e5f5e0"/>
<rect x="113" y="368" width="15" height="5" fill="#e7f6e2"/>
<rect x="128" y="368" width="30" height="5" fill="#e5f5e0"/>
<rect x="158" y="368" width="15" height="5" fill="#dcf1d6"/>
<rect x="173" y="368" width="15" height="5" fill="#dff3da"/>
<rect x="188" y="368" width="15" height="5" fill="#d6efd0"/>
<rect x="203" y="368" width="15" height="5" fill="#dcf1d6"/>
<rect x="218" y="368" width="15" height="5" fill="#e2f4dd"/>
<rect x="233" y="368" width="29" height="5" fill="#e5f5e0"/>
<rect x="262" y="368" width="15" height="5" fill="#e7f6e2"/>
<rect x="277" y="368" width="15" height="5" fill="#e9f6e4"/>
<rect x="292" y="368" width="15" height="5" fill="#e5f5e0"/>
<rect x="307" y="368" width="15" height="5" fill="#dff3da"/>
<rect x="322" y="368" width="15" height="5" fill="#d9f0d3"/>
<rect x="337" y="368" width="15" height="5" fill="#d0edca"/>
<rect x="352" y="368" width="15" height="5" fill="#d6efd0"/>
<rect x="367" y="368" width="15" height="5" fill="#caeac3"/>
<rect x="382" y="368" width="15" height="5" fill="#bfe6b9"/>
<rect x="397" y="368" width="15" height="5" fill="#c3e7bc"/>
<rect x="412" y="368" width="15" height="5" fill="#c7e9c0"/>
<rect x="427" y="368" width="15" height="5" fill="#d3eecd"/>
<rect x="442" y="368" width="15" height="5" fill="#d0edca"/>
<rect x="457" y="368" width="15" height="5" fill="#d3eecd"/>
<rect x="472" y="368" width="15" height="5" fill="#d6efd0"/>
<rect x="487" y="368" width="15" height="5" fill="#dff3da"/>
<rect x="502" y="368" width="14" height="5" fill="#dcf1d6"/>
<rect x="516" y="368" width="15" height="5" fill="#e5f5e0"/>
<rect x="531" y="368" width="15" height="5" fill="#e7f6e2"/>
<rect x="546" y="368" width="15" height="5" fill="#eaf7e6"/>
<rect x="561" y="368" width="15" height="5" fill="#ecf8e8"/>
<rect x="576" y="368" width="15" height="5" fill="#e9f6e4"/>
<rect x="591" y="368" width="15" height="5" fill="#e7f6e2"/>
<rect x="606" y="368" width="16" height="5" fill="#e2f4dd"/>
<rect x="84" y="373" width="44" height="5" fill="#e5f5e0"/>
<rect x="128" y="373" width="15" height="5" fill="#dff3da"/>
<rect x="143" y="373" width="15" height="5" fill="#e5f5e0"/>
<rect x="158" y="373" width="15" height="5" fill="#dff3da"/>
<rect x="173" y="373" width="15" height="5" fill="#e2f4dd"/>
<rect x="188" y="373" width="15" height="5" fill="#d9f0d3"/>
<rect x="203" y="373" width="15" height="5" fill="#dcf1d6"/>
<rect x="218" y="373" width="15" height="5" fill="#dff3da"/>
<rect x="233" y="373" width="15" height="5" fill="#e2f4dd"/>
<rect x="248" y="373" width="14" height="5" fill="#e7f6e2"/>
<rect x="262" y="373" width="30" height="5" fill="#e9f6e4"/>
<rect x="292" y="373" width="15" height="5" fill="#e5f5e0"/>
<rect x="307" y="373" width="15" height="5" fill="#e2f4dd"/>
<rect x="322" y="373" width="15" height="5" fill="#dff3da"/>
<rect x="337" y="373" width="30" height="5" fill="#d3eecd"/>
<rect x="367" y="373" width="15" height="5" fill="#caeac3"/>
<rect x="382" y="373" width="30" height="5" fill="#c7e9c0"/>
<rect x="412" y="373" width="15" height="5" fill="#cdebc6"/>
<rect x="427" y="373" width="15" height="5" fill="#d3eecd"/>
<rect x="442" y="373" width="15" height="5" fill="#cdebc6"/>
<rect x="457" y="373" width="15" height="5" fill="#d6efd0"/>
<rect x="472" y="373" width="15" height="5" fill="#d9f0d3"/>
<rect x="487" y="373" width="15" height="5" fill="#dff3da"/>
<rect x="502" y="373" width="14" height="5" fill="#d9f0d3"/>
<rect x="516" y="373" width="15" height="5" fill="#e2f4dd"/>
<rect x="531" y="373" width="15" height="5" fill="#e7f6e2"/>
<rect x="546" y="373" width="15" height="5" fill="#eaf7e6"/>
<rect x="561" y="373" width="30" height="5" fill="#ecf8e8"/>
<rect x="591" y="373" width="15" height="5" fill="#e9f6e4"/>
<rect x="606" y="373" width="16" height="5" fill="#e2f4dd"/>
<rect x="84" y="378" width="14" height="5" fill="#e5f5e0"/>
<rect x="98" y="378" width="15" height="5" fill="#dcf1d6"/>
<rect x="113" y="378" width="15" height="5" fill="#e2f4dd"/>
<rect x="128" y="378" width="15" height="5" fill="#dff3da"/>
<rect x="143" y="378" width="15" height="5" fill="#e5f5e0"/>
<rect x="158" y="378" width="15" height="5" fill="#dff3da"/>
<rect x="173" y="378" width="15" height="5" fill="#e5f5e0"/>
<rect x="188" y="378" width="30" height="5" fill="#dcf1d6"/>
<rect x="218" y="378" width="15" height="5" fill="#e5f5e0"/>
<rect x="233" y="378" width="15" height="5" fill="#e7f6e2"/>
<rect x="248" y="378" width="14" height="5" fill="#e9f6e4"/>
<rect x="262" y="378" width="30" height="5" fill="#e7f6e2"/>
<rect x="292" y="378" width="15" height="5" fill="#e5f5e0"/>
<rect x="307" y="378" width="15" height="5" fill="#e9f6e4"/>
<rect x="322" y="378" width="15" height="5" fill="#e7f6e2"/>
<rect x="337" y="378" width="30" height="5" fill="#d3eecd"/>
<rect x="367" y="378" width="15" height="5" fill="#d0edca"/>
<rect x="382" y="378" width="15" height="5" fill="#caeac3"/>
<rect x="397" y="378" width="15" height="5" fill="#bfe6b9"/>
<rect x="412" y="378" width="15" height="5" fill="#caeac3"/>
<rect x="427" y="378" width="30" height="5" fill="#d0edca"/>
<rect x="457" y="378" width="15" height="5" fill="#dcf1d6"/>
<rect x="472" y="378" width="15" height="5" fill="#e5f5e0"/>
<rect x="487" y="378" width="15" height="5" fill="#e2f4dd"/>
<rect x="502" y="378" width="14" height="5" fill="#d9f0d3"/>
<rect x="516" y="378" width="15" height="5" fill="#e2f4dd"/>
<rect x="531" y="378" width="15" height="5" fill="#e7f6e2"/>
<rect x="546" y="378" width="15" height="5" fill="#e9f6e4"/>
<rect x="561" y="378" width="45" height="5" fill="#eaf7e6"/>
<rect x="606" y="378" width="16" height="5" fill="#e5f5e0"/>
<rect x="84" y="383" width="14" height="6" fill="#e7f6e2"/>
<rect x="98" y="383" width="15" height="6" fill="#dff3da"/>
<rect x="113" y="383" width="30" height="6" fill="#e2f4dd"/>
<rect x="143" y="383" width="15" height="6" fill="#e5f5e0"/>
<rect x="158" y="383" width="15" height="6" fill="#e2f4dd"/>
<rect x="173" y="383" width="15" height="6" fill="#e7f6e2"/>
<rect x="188" y="383" width="30" height="6" fill="#dff3da"/>
<rect x="218" y="383" width="15" height="6" fill="#e2f4dd"/>
<rect x="233" y="383" width="15" height="6" fill="#e7f6e2"/>
<rect x="248" y="383" width="29" height="6" fill="#e5f5e0"/>
<rect x="277" y="383" width="30" height="6" fill="#e7f6e2"/>
<rect x="307" y="383" width="15" height="6" fill="#ecf8e8"/>
<rect x="322" y="383" width="15" height="6" fill="#e9f6e4"/>
<rect x="337" y="383" width="15" height="6" fill="#d3eecd"/>
<rect x="352" y="383" width="15" height="6" fill="#d0edca"/>
<rect x="367" y="383" width="30" height="6" fill="#c7e9c0"/>
<rect x="397" y="383" width="15" height="6" fill="#bfe6b9"/>
<rect x="412" y="383" width="15" height="6" fill="#caeac3"/>
<rect x="427" y="383" width="15" height="6" fill="#d0edca"/>
<rect x="442" y="383" width="15" height="6" fill="#d3eecd"/>
<rect x="457" y="383" width="15" height="6" fill="#dcf1d6"/>
<rect x="472" y="383" width="15" height="6" fill="#e5f5e0"/>
<rect x="487" y="383" width="15" height="6" fill="#dcf1d6"/>
<rect x="502" y="383" width="14" height="6" fill="#d9f0d3"/>
<rect x="516" y="383" width="30" height="6" fill="#e2f4dd"/>
<rect x="546" y="383" width="15" height="6" fill="#e5f5e0"/>
<rect x="561" y="383" width="15" height="6" fill="#e9f6e4"/>
<rect x="576" y="383" width="15" height="6" fill="#e7f6e2"/>
<rect x="591" y="383" width="15" height="6" fill="#e9f6e4"/>
<rect x="606" y="383" width="16" height="6" fill="#e5f5e0"/>
<rect x="84" y="389" width="29" height="5" fill="#e7f6e2"/>
<rect x="113" y="389" width="15" height="5" fill="#e5f5e0"/>
<rect x="128" y="389" width="30" height="5" fill="#dcf1d6"/>
<rect x="158" y="389" width="15" height="5" fill="#e2f4dd"/>
<rect x="173" y="389" width="15" height="5" fill="#e9f6e4"/>
<rect x="188" y="389" width="30" height="5" fill="#e2f4dd"/>
<rect x="218" y="389" width="15" height="5" fill="#dff3da"/>
<rect x="233" y="389" width="29" height="5" fill="#e5f5e0"/>
<rect x="262" y="389" width="15" height="5" fill="#e2f4dd"/>
<rect x="277" y="389" width="15" height="5" fill="#e5f5e0"/>
<rect x="292" y="389" width="15" height="5" fill="#e9f6e4"/>
<rect x="307" y="389" width="15" height="5" fill="#eaf7e6"/>
<rect x="322" y="389" width="15" height="5" fill="#e7f6e2"/>
<rect x="337" y="389" width="15" height="5" fill="#d3eecd"/>
<rect x="352" y="389" width="15" height="5" fill="#d6efd0"/>
<rect x="367" y="389" width="15" height="5" fill="#c3e7bc"/>
<rect x="382" y="389" width="15" height="5" fill="#bce4b5"/>
<rect x="397" y="389" width="15" height="5" fill="#c3e7bc"/>
<rect x="412" y="389" width="30" height="5" fill="#caeac3"/>
<rect x="442" y="389" width="15" height="5" fill="#d0edca"/>
<rect x="457" y="389" width="15" height="5" fill="#d6efd0"/>
<rect x="472" y="389" width="15" height="5" fill="#dff3da"/>
<rect x="487" y="389" width="15" height="5" fill="#dcf1d6"/>
<rect x="502" y="389" width="14" height="5" fill="#d9f0d3"/>
<rect x="516" y="389" width="30" height="5" fill="#dcf1d6"/>
<rect x="546" y="389" width="15" height="5" fill="#d9f0d3"/>
<rect x="561" y="389" width="15" height="5" fill="#e2f4dd"/>
<rect x="576" y="389" width="15" height="5" fill="#e5f5e0"/>
<rect x="591" y="389" width="15" height="5" fill="#e7f6e2"/>
<rect x="606" y="389" width="16" height="5" fill="#e5f5e0"/>
<rect x="84" y="394" width="14" height="5" fill="#dff3da"/>
<rect x="98" y="394" width="15" height="5" fill="#e9f6e4"/>
<rect x="113" y="394" width="15" height="5" fill="#e5f5e0"/>
<rect x="128" y="394" width="15" height="5" fill="#dcf1d6"/>
<rect x="143" y="394" width="15" height="5" fill="#e2f4dd"/>
<rect x="158" y="394" width="15" height="5" fill="#e7f6e2"/>
<rect x="173" y="394" width="15" height="5" fill="#eaf7e6"/>
<rect x="188" y="394" width="30" height="5" fill="#e2f4dd"/>
<rect x="218" y="394" width="15" height="5" fill="#dcf1d6"/>
<rect x="233" y="394" width="15" height="5" fill="#dff3da"/>
<rect x="248" y="394" width="14" height="5" fill="#e5f5e0"/>
<rect x="262" y="394" width="15" height="5" fill="#e2f4dd"/>
<rect x="277" y="394" width="15" height="5" fill="#e5f5e0"/>
<rect x="292" y="394" width="15" height="5" fill="#e9f6e4"/>
<rect x="307" y="394" width="15" height="5" fill="#e5f5e0"/>
<rect x="322" y="394" width="15" height="5" fill="#d9f0d3"/>
<rect x="337" y="394" width="15" height="5" fill="#d0edca"/>
<rect x="352" y="394" width="15" height="5" fill="#d6efd0"/>
<rect x="367" y="394" width="15" height="5" fill="#caeac3"/>
<rect x="382" y="394" width="30" height="5" fill="#c7e9c0"/>
<rect x="412" y="394" width="15" height="5" fill="#caeac3"/>
<rect x="427" y="394" width="15" height="5" fill="#d0edca"/>
<rect x="442" y="394" width="30" height="5" fill="#d3eecd"/>
<rect x="472" y="394" width="15" height="5" fill="#d9f0d3"/>
<rect x="487" y="394" width="15" height="5" fill="#dff3da"/>
<rect x="502" y="394" width="29" height="5" fill="#dcf1d6"/>
<rect x="531" y="394" width="45" height="5" fill="#dff3da"/>
<rect x="576" y="394" width="15" height="5" fill="#e5f5e0"/>
<rect x="591" y="394" width="15" height="5" fill="#e7f6e2"/>
<rect x="606" y="394" width="16" height="5" fill="#e2f4dd"/>
<rect x="84" y="399" width="14" height="5" fill="#dff3da"/>
<rect x="98" y="399" width="15" height="5" fill="#e5f5e0"/>
<rect x="113" y="399" width="15" height="5" fill="#e2f4dd"/>
<rect x="128" y="399" width="15" height="5" fill="#dcf1d6"/>
<rect x="143" y="399" width="15" height="5" fill="#e5f5e0"/>
<rect x="158" y="399" width="15" height="5" fill="#e9f6e4"/>
<rect x="173" y="399" width="15" height="5" fill="#ecf8e8"/>
<rect x="188" y="399" width="15" height="5" fill="#dff3da"/>
<rect x="203" y="399" width="15" height="5" fill="#e2f4dd"/>
<rect x="218" y="399" width="30" height="5" fill="#d9f0d3"/>
<rect x="248" y="399" width="14" height="5" fill="#dff3da"/>
<rect x="262" y="399" width="15" height="5" fill="#e5f5e0"/>
<rect x="277" y="399" width="15" height="5" fill="#e7f6e2"/>
<rect x="292" y="399" width="15" height="5" fill="#e9f6e4"/>
<rect x="307" y="399" width="15" height="5" fill="#e2f4dd"/>
<rect x="322" y="399" width="15" height="5" fill="#d3eecd"/>
<rect x="337" y="399" width="15" height="5" fill="#d0edca"/>
<rect x="352" y="399" width="15" height="5" fill="#e2f4dd"/>
<rect x="367" y="399" width="15" height="5" fill="#dcf1d6"/>
<rect x="382" y="399" width="30" height="5" fill="#c7e9c0"/>
<rect x="412" y="399" width="15" height="5" fill="#caeac3"/>
<rect x="427" y="399" width="45" height="5" fill="#d3eecd"/>
<rect x="472" y="399" width="15" height="5" fill="#dcf1d6"/>
<rect x="487" y="399" width="29" height="5" fill="#e7f6e2"/>
<rect x="516" y="399" width="30" height="5" fill="#e2f4dd"/>
<rect x="546" y="399" width="15" height="5" fill="#e5f5e0"/>
<rect x="561" y="399" width="15" height="5" fill="#e7f6e2"/>
<rect x="576" y="399" width="30" height="5" fill="#e9f6e4"/>
<rect x="606" y="399" width="16" height="5" fill="#e5f5e0"/>
<rect x="84" y="404" width="14" height="5" fill="#e2f4dd"/>
<rect x="98" y="404" width="15" height="5" fill="#e5f5e0"/>
<rect x="113" y="404" width="15" height="5" fill="#e2f4dd"/>
<rect x="128" y="404" width="15" height="5" fill="#d9f0d3"/>
<rect x="143" y="404" width="15" height="5" fill="#e5f5e0"/>
<rect x="158" y="404" width="15" height="5" fill="#eaf7e6"/>
<rect x="173" y="404" width="15" height="5" fill="#ecf8e8"/>
<rect x="188" y="404" width="30" height="5" fill="#e2f4dd"/>
<rect x="218" y="404" width="15" height="5" fill="#d9f0d3"/>
<rect x="233" y="404" width="15" height="5" fill="#dcf1d6"/>
<rect x="248" y="404" width="14" height="5" fill="#e2f4dd"/>
<rect x="262" y="404" width="15" height="5" fill="#e9f6e4"/>
<rect x="277" y="404" width="30" height="5" fill="#e7f6e2"/>
<rect x="307" y="404" width="15" height="5" fill="#e2f4dd"/>
<rect x="322" y="404" width="15" height="5" fill="#d9f0d3"/>
<rect x="337" y="404" width="15" height="5" fill="#d6efd0"/>
<rect x="352" y="404" width="15" height="5" fill="#dcf1d6"/>
<rect x="367" y="404" width="15" height="5" fill="#cdebc6"/>
<rect x="382" y="404" width="15" height="5" fill="#c3e7bc"/>
<rect x="397" y="404" width="15" height="5" fill="#caeac3"/>
<rect x="412" y="404" width="15" height="5" fill="#cdebc6"/>
<rect x="427" y="404" width="15" height="5" fill="#d3eecd"/>
<rect x="442" y="404" width="15" height="5" fill="#d6efd0"/>
<rect x="457" y="404" width="30" height="5" fill="#dcf1d6"/>
<rect x="487" y="404" width="15" height="5" fill="#e2f4dd"/>
<rect x="502" y="404" width="29" height="5" fill="#e5f5e0"/>
<rect x="531" y="404" width="15" height="5" fill="#e9f6e4"/>
<rect x="546" y="404" width="15" height="5" fill="#eaf7e6"/>
<rect x="561" y="404" width="15" height="5" fill="#ecf8e8"/>
<rect x="576" y="404" width="15" height="5" fill="#eaf7e6"/>
<rect x="591" y="404" width="15" height="5" fill="#e9f6e4"/>
<rect x="606" y="404" width="16" height="5" fill="#e5f5e0"/>
<rect x="84" y="409" width="14" height="5" fill="#e2f4dd"/>
<rect x="98" y="409" width="15" height="5" fill="#eef8ea"/>
<rect x="113" y="409" width="15" height="5" fill="#ecf8e8"/>
<rect x="128" y="409" width="15" height="5" fill="#dcf1d6"/>
<rect x="143" y="409" width="15" height="5" fill="#e5f5e0"/>
<rect x="158" y="409" width="30" height="5" fill="#eaf7e6"/>
<rect x="188" y="409" width="15" height="5" fill="#e7f6e2"/>
<rect x="203" y="409" width="15" height="5" fill="#e5f5e0"/>
<rect x="218" y="409" width="15" height="5" fill="#dff3da"/>
<rect x="233" y="409" width="15" height="5" fill="#e2f4dd"/>
<rect x="248" y="409" width="14" height="5" fill="#e5f5e0"/>
<rect x="262" y="409" width="15" height="5" fill="#e9f6e4"/>
<rect x="277" y="409" width="15" height="5" fill="#e5f5e0"/>
<rect x="292" y="409" width="15" height="5" fill="#e7f6e2"/>
<rect x="307" y="409" width="15" height="5" fill="#e2f4dd"/>
<rect x="322" y="409" width="15" height="5" fill="#dcf1d6"/>
<rect x="337" y="409" width="15" height="5" fill="#d9f0d3"/>
<rect x="352" y="409" width="15" height="5" fill="#d3eecd"/>
<rect x="367" y="409" width="15" height="5" fill="#caeac3"/>
<rect x="382" y="409" width="15" height="5" fill="#cdebc6"/>
<rect x="397" y="409" width="15" height="5" fill="#d6efd0"/>
<rect x="412" y="409" width="30" height="5" fill="#d0edca"/>
<rect x="442" y="409" width="15" height="5" fill="#d6efd0"/>
<rect x="457" y="409" width="15" height="5" fill="#e2f4dd"/>
<rect x="472" y="409" width="15" height="5" fill="#e9f6e4"/>
<rect x="487" y="409" width="15" height="5" fill="#dff3da"/>
<rect x="502" y="409" width="14" height="5" fill="#dcf1d6"/>
<rect x="516" y="409" width="15" height="5" fill="#e5f5e0"/>
<rect x="531" y="409" width="15" height="5" fill="#ecf8e8"/>
<rect x="546" y="409" width="30" height="5" fill="#eef8ea"/>
<rect x="576" y="409" width="15" height="5" fill="#eaf7e6"/>
<rect x="591" y="409" width="15" height="5" fill="#dff3da"/>
<rect x="606" y="409" width="16" height="5" fill="#dcf1d6"/>
</g>
<circle cx="91.5" cy="147.5" r="2.7" fill="#0000ff"/>
<circle cx="106.5" cy="137.5" r="2.7" fill="#0000ff"/>
<circle cx="121.5" cy="147.5" r="2.7" fill="#0000ff"/>
<circle cx="136.5" cy="147.5" r="2.7" fill="#0000ff"/>
<circle cx="151.5" cy="147.5" r="2.7" fill="#0000ff"/>
<circle cx="166.5" cy="147.5" r="2.7" fill="#0000ff"/>
<circle cx="181.5" cy="152.5" r="2.7" fill="#0000ff"/>
<circle cx="196.5" cy="152.5" r="2.7" fill="#0000ff"/>
<circle cx="211.5" cy="147.5" r="2.7" fill="#0000ff"/>
<circle cx="226.5" cy="147.5" r="2.7" fill="#0000ff"/>
<circle cx="241.5" cy="147.5" r="2.7" fill="#0000ff"/>
<circle cx="255.5" cy="147.5" r="2.7" fill="#0000ff"/>
<circle cx="270.5" cy="147.5" r="2.7" fill="#0000ff"/>
<circle cx="285.5" cy="131.5" r="2.7" fill="#0000ff"/>
<circle cx="300.5" cy="131.5" r="2.7" fill="#0000ff"/>
<circle cx="315.5" cy="131.5" r="2.7" fill="#0000ff"/>
<circle cx="330.5" cy="131.5" r="2.7" fill="#0000ff"/>
<circle cx="345.5" cy="137.5" r="2.7" fill="#0000ff"/>
<circle cx="360.5" cy="131.5" r="2.7" fill="#0000ff"/>
<circle cx="375.5" cy="131.5" r="2.7" fill="#0000ff"/>
<circle cx="390.5" cy="131.5" r="2.7" fill="#0000ff"/>
<circle cx="405.5" cy="131.5" r="2.7" fill="#0000ff"/>
<circle cx="420.5" cy="147.5" r="2.7" fill="#0000ff"/>
<circle cx="435.5" cy="147.5" r="2.7" fill="#0000ff"/>
<circle cx="450.5" cy="147.5" r="2.7" fill="#0000ff"/>
<circle cx="465.5" cy="147.5" r="2.7" fill="#0000ff"/>
<circle cx="480.5" cy="147.5" r="2.7" fill="#0000ff"/>
<circle cx="495.5" cy="147.5" r="2.7" fill="#0000ff"/>
<circle cx="510.5" cy="147.5" r="2.7" fill="#0000ff"/>
<circle cx="524.5" cy="157.5" r="2.7" fill="#0000ff"/>
<circle cx="539.5" cy="147.5" r="2.7" fill="#0000ff"/>
<circle cx="554.5" cy="147.5" r="2.7" fill="#0000ff"/>
<circle cx="569.5" cy="147.5" r="2.7" fill="#0000ff"/>
<circle cx="584.5" cy="147.5" r="2.7" fill="#0000ff"/>
<circle cx="599.5" cy="147.5" r="2.7" fill="#0000ff"/>
<circle cx="614.5" cy="147.5" r="2.7" fill="#0000ff"/>
<circle cx="91.5" cy="275.5" r="2.7" fill="#000"/>
<circle cx="106.5" cy="260.5" r="2.7" fill="#000"/>
<circle cx="121.5" cy="265.5" r="2.7" fill="#000"/>
<circle cx="136.5" cy="275.5" r="2.7" fill="#000"/>
<circle cx="151.5" cy="275.5" r="2.7" fill="#000"/>
<circle cx="166.5" cy="270.5" r="2.7" fill="#000"/>
<circle cx="181.5" cy="270.5" r="2.7" fill="#000"/>
<circle cx="196.5" cy="265.5" r="2.7" fill="#000"/>
<circle cx="211.5" cy="265.5" r="2.7" fill="#000"/>
<circle cx="226.5" cy="275.5" r="2.7" fill="#000"/>
<circle cx="241.5" cy="275.5" r="2.7" fill="#000"/>
<circle cx="255.5" cy="260.5" r="2.7" fill="#000"/>
<circle cx="270.5" cy="260.5" r="2.7" fill="#000"/>
<circle cx="285.5" cy="260.5" r="2.7" fill="#000"/>
<circle cx="300.5" cy="260.5" r="2.7" fill="#000"/>
<circle cx="315.5" cy="275.5" r="2.7" fill="#000"/>
<circle cx="330.5" cy="275.5" r="2.7" fill="#000"/>
<circle cx="345.5" cy="275.5" r="2.7" fill="#000"/>
<circle cx="360.5" cy="275.5" r="2.7" fill="#000"/>
<circle cx="375.5" cy="275.5" r="2.7" fill="#000"/>
<circle cx="390.5" cy="275.5" r="2.7" fill="#000"/>
<circle cx="405.5" cy="275.5" r="2.7" fill="#000"/>
<circle cx="420.5" cy="275.5" r="2.7" fill="#000"/>
<circle cx="435.5" cy="275.5" r="2.7" fill="#000"/>
<circle cx="450.5" cy="270.5" r="2.7" fill="#000"/>
<circle cx="465.5" cy="270.5" r="2.7" fill="#000"/>
<circle cx="480.5" cy="275.5" r="2.7" fill="#000"/>
<circle cx="495.5" cy="275.5" r="2.7" fill="#000"/>
<circle cx="510.5" cy="275.5" r="2.7" fill="#000"/>
<circle cx="524.5" cy="270.5" r="2.7" fill="#000"/>
<circle cx="539.5" cy="260.5" r="2.7" fill="#000"/>
<circle cx="554.5" cy="260.5" r="2.7" fill="#000"/>
<circle cx="569.5" cy="265.5" r="2.7" fill="#000"/>
<circle cx="584.5" cy="275.5" r="2.7" fill="#000"/>
<circle cx="599.5" cy="275.5" r="2.7" fill="#000"/>
<circle cx="614.5" cy="275.5" r="2.7" fill="#000"/>
<rect x="84.5" y="18.5" width="538" height="396" fill="none" stroke="#000" stroke-width="1.11"/>
<line x1="84.5" y1="415" x2="84.5" y2="419.4" stroke="#000" stroke-width="1.11"/>
<text class="t" x="80.03" y="434.2" font-size="14.5" textLength="8.24" lengthAdjust="spacingAndGlyphs">0</text>
<line x1="158.5" y1="415" x2="158.5" y2="419.4" stroke="#000" stroke-width="1.11"/>
<text class="t" x="149.98" y="434.2" font-size="14.5" textLength="16.29" lengthAdjust="spacingAndGlyphs">50</text>
<line x1="233.5" y1="415" x2="233.5" y2="419.4" stroke="#000" stroke-width="1.11"/>
<text class="t" x="219.94" y="434.2" font-size="14.5" textLength="25.76" lengthAdjust="spacingAndGlyphs">100</text>
<line x1="308.5" y1="415" x2="308.5" y2="419.4" stroke="#000" stroke-width="1.11"/>
<text class="t" x="294.89" y="434.2" font-size="14.5" textLength="25.81" lengthAdjust="spacingAndGlyphs">150</text>
<line x1="382.5" y1="415" x2="382.5" y2="419.4" stroke="#000" stroke-width="1.11"/>
<text class="t" x="369.09" y="434.2" font-size="14.5" textLength="26.51" lengthAdjust="spacingAndGlyphs">200</text>
<line x1="457.5" y1="415" x2="457.5" y2="419.4" stroke="#000" stroke-width="1.11"/>
<text class="t" x="443.94" y="434.2" font-size="14.5" textLength="26.35" lengthAdjust="spacingAndGlyphs">250</text>
<line x1="532.5" y1="415" x2="532.5" y2="419.4" stroke="#000" stroke-width="1.11"/>
<text class="t" x="519.34" y="434.2" font-size="14.5" textLength="24.38" lengthAdjust="spacingAndGlyphs">300</text>
<line x1="607.5" y1="415" x2="607.5" y2="419.4" stroke="#000" stroke-width="1.11"/>
<text class="t" x="592.99" y="434.2" font-size="14.5" textLength="24.80" lengthAdjust="spacingAndGlyphs">350</text>
<line x1="79.1" y1="60.5" x2="84" y2="60.5" stroke="#000" stroke-width="1.11"/>
<text class="t" x="55.73" y="65.0" font-size="14.5" textLength="17.95" lengthAdjust="spacingAndGlyphs">60</text>
<line x1="79.1" y1="111.5" x2="84" y2="111.5" stroke="#000" stroke-width="1.11"/>
<text class="t" x="56.97" y="116.0" font-size="14.5" textLength="16.81" lengthAdjust="spacingAndGlyphs">40</text>
<line x1="79.1" y1="162.5" x2="84" y2="162.5" stroke="#000" stroke-width="1.11"/>
<text class="t" x="55.98" y="168.0" font-size="14.5" textLength="17.23" lengthAdjust="spacingAndGlyphs">20</text>
<line x1="79.1" y1="214.5" x2="84" y2="214.5" stroke="#000" stroke-width="1.11"/>
<text class="t" x="66.30" y="219.0" font-size="14.5" textLength="8.40" lengthAdjust="spacingAndGlyphs">0</text>
<line x1="79.1" y1="265.5" x2="84" y2="265.5" stroke="#000" stroke-width="1.11"/>
<text class="t" x="45.10" y="270.0" font-size="14.5" textLength="28.03" lengthAdjust="spacingAndGlyphs">−20</text>
<line x1="79.1" y1="316.5" x2="84" y2="316.5" stroke="#000" stroke-width="1.11"/>
<text class="t" x="45.10" y="322.0" font-size="14.5" textLength="28.03" lengthAdjust="spacingAndGlyphs">−40</text>
<line x1="79.1" y1="368.5" x2="84" y2="368.5" stroke="#000" stroke-width="1.11"/>
<text class="t" x="45.10" y="373.0" font-size="14.5" textLength="28.03" lengthAdjust="spacingAndGlyphs">−60</text>
<text class="t" x="352.3" y="459.2" font-size="17.8" font-style="italic" text-anchor="middle" textLength="75.7" lengthAdjust="spacingAndGlyphs">slice, deg</text>
<text class="t" transform="translate(33.5,217.2) rotate(-90)" font-size="17.8" font-style="italic" text-anchor="middle" textLength="28.3" lengthAdjust="spacingAndGlyphs">z, Å</text>
</svg></body></html>
